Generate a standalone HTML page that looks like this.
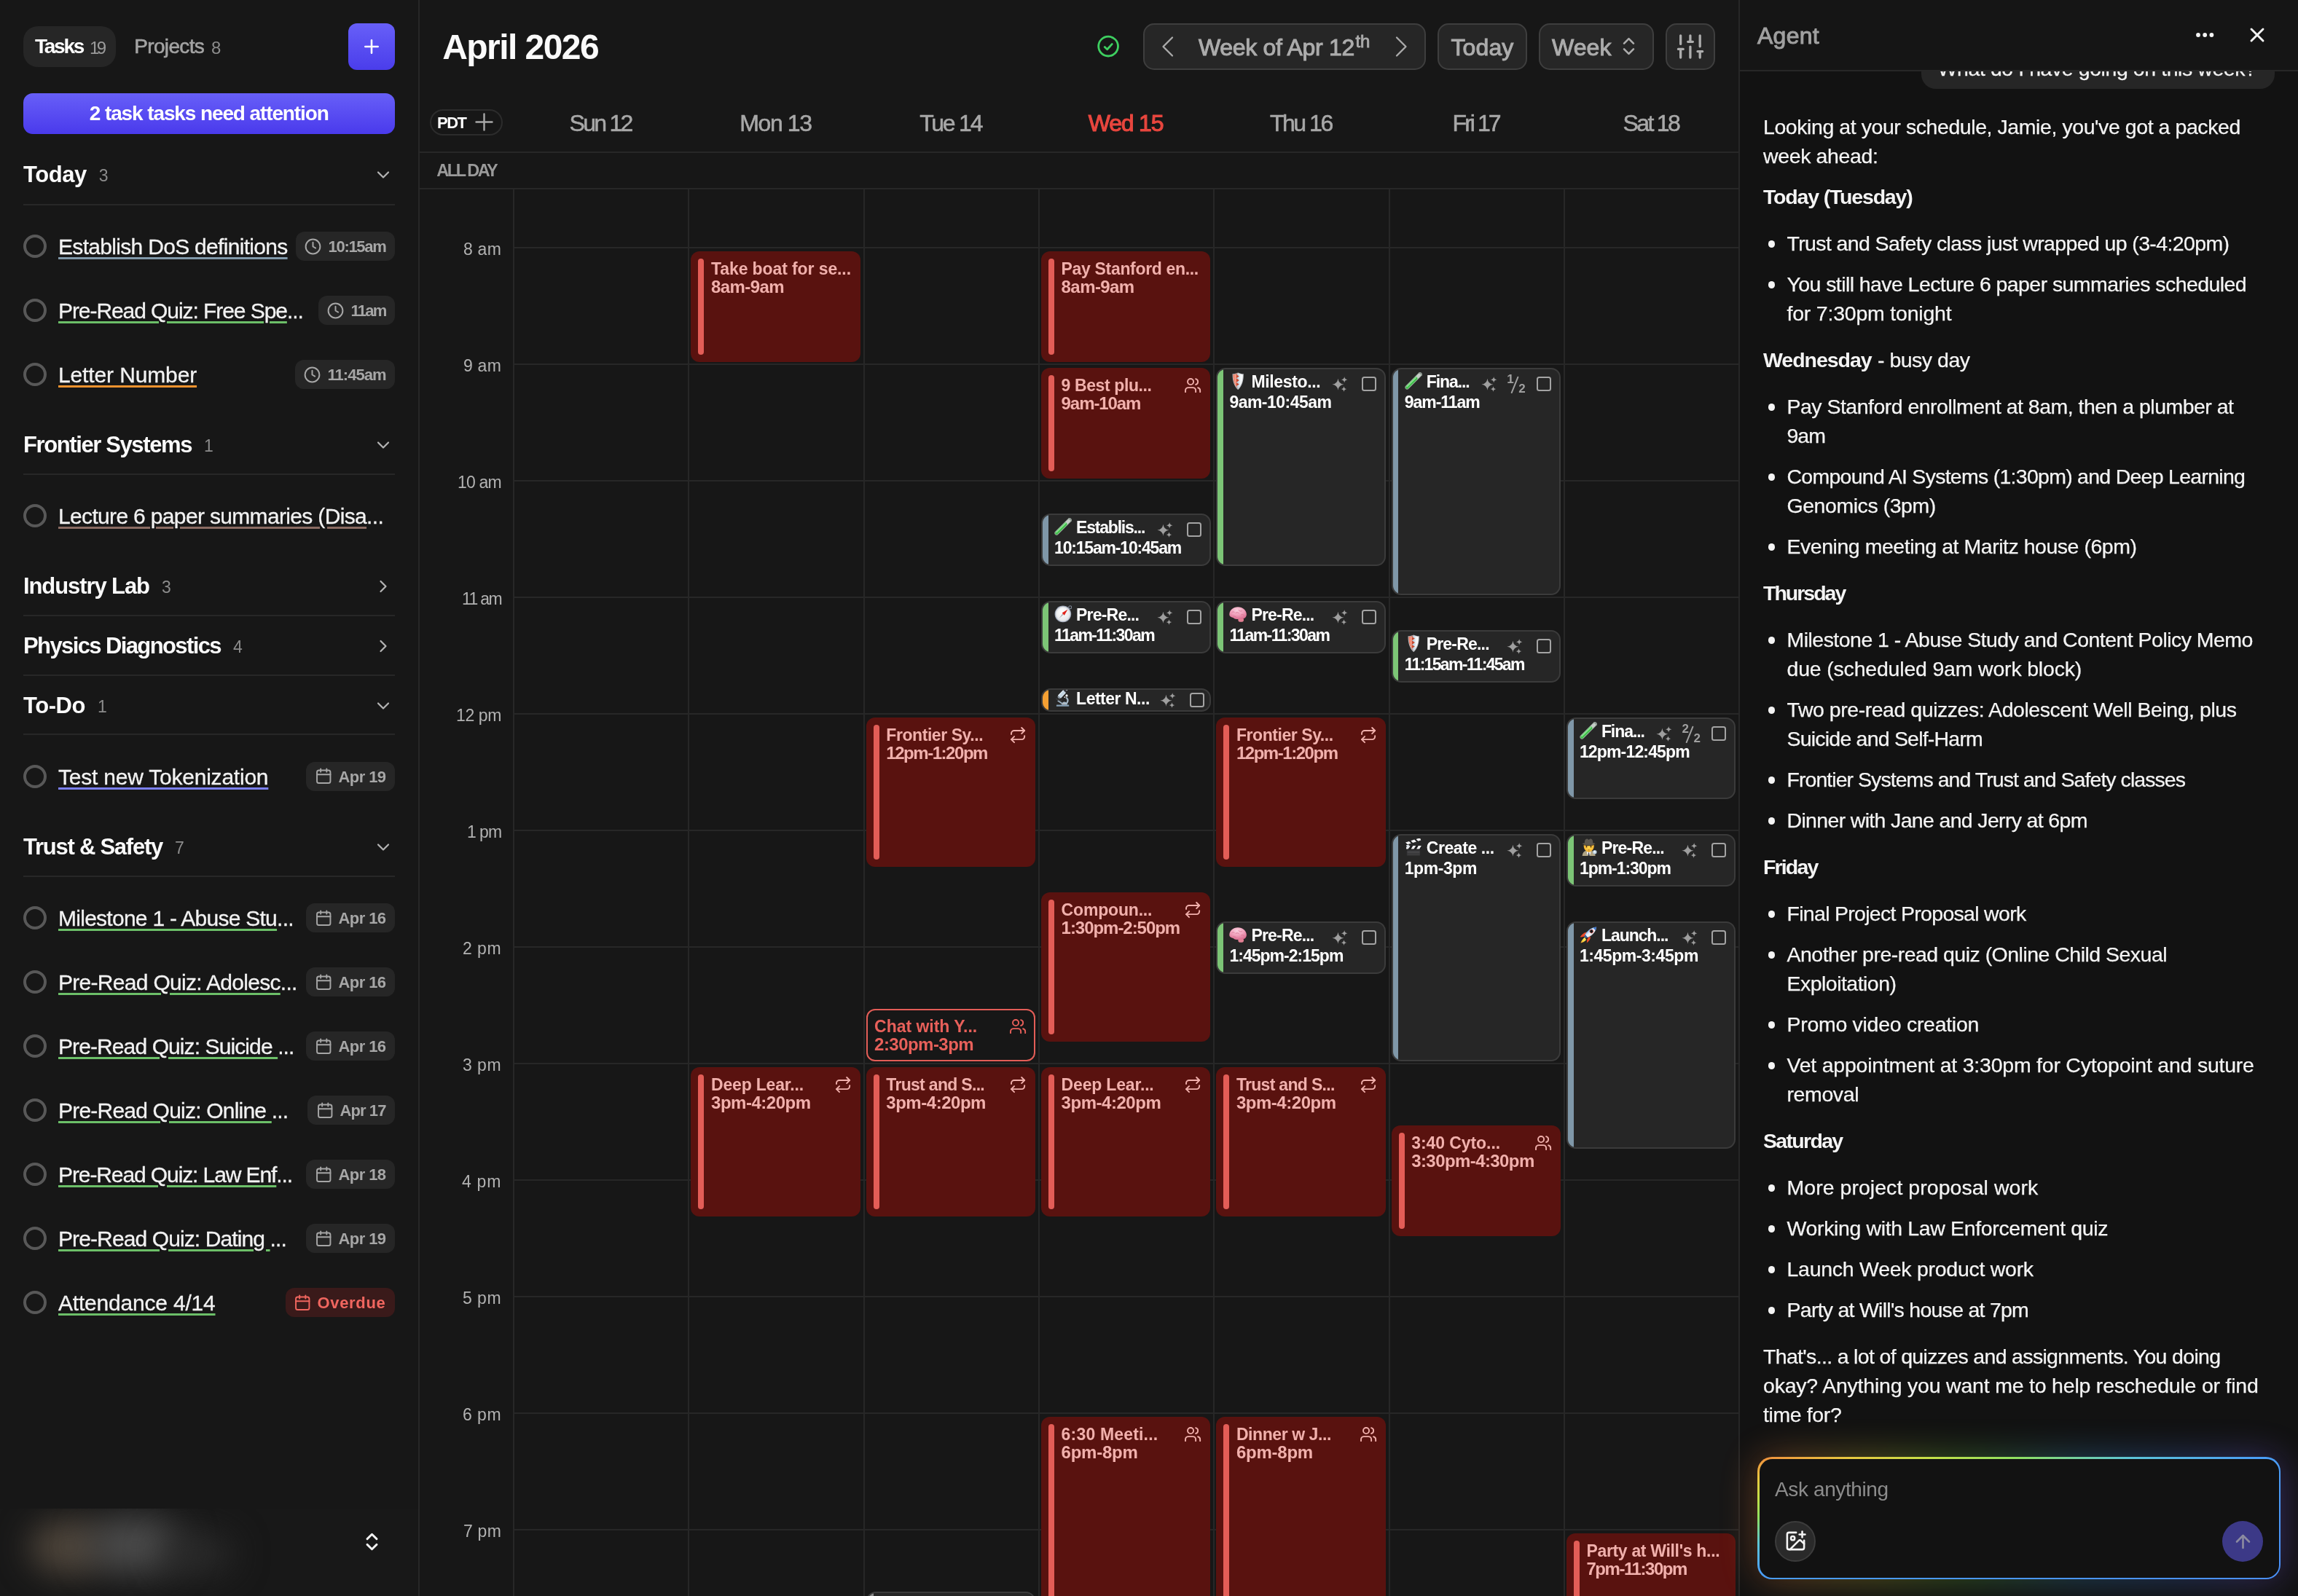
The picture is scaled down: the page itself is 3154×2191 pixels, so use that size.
<!DOCTYPE html>
<html lang="en"><head><meta charset="utf-8"><title>Calendar</title><style>
*{margin:0;padding:0}
html,body{width:3154px;height:2191px;background:#171717;overflow:hidden}
body{font-family:"Liberation Sans",sans-serif;position:relative}
#root{position:absolute;left:0;top:0;width:3154px;height:2191px;will-change:transform}
.a{position:absolute}
.t{position:absolute;white-space:nowrap;text-decoration-skip-ink:auto}
</style></head><body>
<div id="root">
<svg width="0" height="0" style="position:absolute"><defs><linearGradient id="gShR" x1="0" x2="1" y1="0" y2="0"><stop offset="0.450" stop-color="#b9cbd8"/><stop offset="0.750" stop-color="#f2f5f8"/><stop offset="1" stop-color="#ffffff"/></linearGradient><linearGradient id="gShL" x1="0" x2="1" y1="0" y2="0"><stop offset="0" stop-color="#ee7a62"/><stop offset="0.600" stop-color="#f4a08c"/><stop offset="1" stop-color="#df6a50"/></linearGradient><radialGradient id="gBrain" cx="0.450" cy="0.250" r="0.800"><stop offset="0" stop-color="#f9cfde"/><stop offset="0.450" stop-color="#f2a5bf"/><stop offset="1" stop-color="#d8688c"/></radialGradient><radialGradient id="gComp" cx="0.450" cy="0.350" r="0.700"><stop offset="0" stop-color="#ffffff"/><stop offset="1" stop-color="#e6e7ea"/></radialGradient><linearGradient id="gTube" x1="0" x2="1" y1="0" y2="0"><stop offset="0" stop-color="#e6f0f7"/><stop offset="0.500" stop-color="#bcd0df"/><stop offset="1" stop-color="#d5e2ec"/></linearGradient><radialGradient id="gFace" cx="0.500" cy="0.400" r="0.700"><stop offset="0" stop-color="#ffd84d"/><stop offset="1" stop-color="#f2a72a"/></radialGradient><linearGradient id="gFlame" x1="1" x2="0" y1="0" y2="1"><stop offset="0" stop-color="#fff27a"/><stop offset="0.500" stop-color="#fde047"/><stop offset="1" stop-color="#f59a23"/></linearGradient><linearGradient id="gRock" x1="0" x2="0" y1="0" y2="1"><stop offset="0" stop-color="#6fa6e4"/><stop offset="0.350" stop-color="#dbe8f6"/><stop offset="0.700" stop-color="#f5f6f8"/><stop offset="1" stop-color="#c9cdd4"/></linearGradient></defs></svg><div class="a" style="left:0.0px;top:0.0px;width:575.0px;height:2191.0px;background:#171717;"></div>
<div class="a" style="left:574.0px;top:0.0px;width:2.0px;height:2191.0px;background:#272727;"></div>
<div class="a" style="left:32.0px;top:36.0px;width:127.0px;height:56.0px;background:#262626;border-radius:20px;"></div>
<div class="t " style="left:48.0px;top:46.1px;font-size:28px;line-height:36px;color:#fff;font-weight:700;letter-spacing:-2.26px;">Tasks</div>
<div class="t " style="left:123.0px;top:49.8px;font-size:24px;line-height:31px;color:#9a9a9a;letter-spacing:-3.55px;">19</div>
<div class="t " style="left:184.2px;top:46.1px;font-size:28px;line-height:36px;color:#a3a3a3;letter-spacing:-0.64px;-webkit-text-stroke:0.6px #a3a3a3;">Projects</div>
<div class="t " style="left:290.0px;top:49.8px;font-size:24px;line-height:31px;color:#8c8c8c;">8</div>
<div class="a" style="left:478.0px;top:32.0px;width:64.0px;height:64.0px;background:linear-gradient(180deg,#675ff8 0%,#4a3deb 100%);border-radius:12px;"></div>
<svg class="a" style="left:497.0px;top:51.0px;" width="26" height="26" viewBox="0 0 24 24" fill="none" stroke="#fff" stroke-width="2.4" stroke-linecap="round" stroke-linejoin="round"><path d="M12 4v16M4 12h16"/></svg>
<div class="a" style="left:32.0px;top:128.0px;width:510.0px;height:55.5px;background:linear-gradient(180deg,#675ff8 0%,#4a3aec 100%);border-radius:13px;"></div>
<div class="t " style="left:122.8px;top:138.3px;font-size:28px;line-height:36px;color:#fff;font-weight:700;letter-spacing:-1.11px;">2 task tasks need attention</div>
<div class="t " style="left:32.0px;top:220.2px;font-size:31px;line-height:40px;color:#fafafa;font-weight:700;letter-spacing:-0.46px;">Today</div>
<div class="t " style="left:135.7px;top:226.4px;font-size:23px;line-height:30px;color:#8c8c8c;">3</div>
<svg class="a" style="left:514.0px;top:228.0px;" width="24" height="24" viewBox="0 0 24 24" fill="none" stroke="#b4b4b4" stroke-width="2.2" stroke-linecap="round" stroke-linejoin="round"><path d="M5 8.5l7 7 7-7"/></svg>
<div class="a" style="left:32.0px;top:280.0px;width:510.0px;height:2.0px;background:#272727;"></div>
<div class="a" style="left:32.0px;top:322.0px;width:32.0px;height:32.0px;border:4.2px solid #585858;border-radius:50%;box-sizing:border-box;"></div>
<div class="t " style="left:80.0px;top:319.2px;font-size:30px;line-height:39px;color:#f2f2f2;letter-spacing:-0.69px;-webkit-text-stroke:0.3px #f2f2f2;"><span style="text-decoration:underline #7f97a8 2.8px;text-underline-offset:4px">Establish DoS definitions</span></div>
<div class="a" style="left:406.0px;top:318.0px;width:136.0px;height:40.0px;background:#262626;border-radius:12px;"></div>
<svg class="a" style="left:417.3px;top:325.5px;" width="25" height="25" viewBox="0 0 24 24" fill="none" stroke="#a6a6a6" stroke-width="1.9" stroke-linecap="round" stroke-linejoin="round"><circle cx="12" cy="12" r="9.5"/><path d="M12 6.5V12l3.5 2"/></svg>
<div class="t " style="left:450.5px;top:323.9px;font-size:22px;line-height:29px;color:#a6a6a6;font-weight:700;letter-spacing:-1.29px;">10:15am</div>
<div class="a" style="left:32.0px;top:410.0px;width:32.0px;height:32.0px;border:4.2px solid #585858;border-radius:50%;box-sizing:border-box;"></div>
<div class="t " style="left:80.0px;top:407.2px;font-size:30px;line-height:39px;color:#f2f2f2;letter-spacing:-1.07px;-webkit-text-stroke:0.3px #f2f2f2;"><span style="text-decoration:underline #6cbf68 2.8px;text-underline-offset:4px">Pre-Read Quiz: Free Spe</span>...</div>
<div class="a" style="left:436.8px;top:406.0px;width:105.2px;height:40.0px;background:#262626;border-radius:12px;"></div>
<svg class="a" style="left:448.1px;top:413.5px;" width="25" height="25" viewBox="0 0 24 24" fill="none" stroke="#a6a6a6" stroke-width="1.9" stroke-linecap="round" stroke-linejoin="round"><circle cx="12" cy="12" r="9.5"/><path d="M12 6.5V12l3.5 2"/></svg>
<div class="t " style="left:481.5px;top:411.9px;font-size:22px;line-height:29px;color:#a6a6a6;font-weight:700;letter-spacing:-1.76px;">11am</div>
<div class="a" style="left:32.0px;top:498.0px;width:32.0px;height:32.0px;border:4.2px solid #585858;border-radius:50%;box-sizing:border-box;"></div>
<div class="t " style="left:80.0px;top:495.2px;font-size:30px;line-height:39px;color:#f2f2f2;letter-spacing:-0.13px;-webkit-text-stroke:0.3px #f2f2f2;"><span style="text-decoration:underline #f0932f 2.8px;text-underline-offset:4px">Letter Number</span></div>
<div class="a" style="left:405.0px;top:494.0px;width:137.0px;height:40.0px;background:#262626;border-radius:12px;"></div>
<svg class="a" style="left:416.3px;top:501.5px;" width="25" height="25" viewBox="0 0 24 24" fill="none" stroke="#a6a6a6" stroke-width="1.9" stroke-linecap="round" stroke-linejoin="round"><circle cx="12" cy="12" r="9.5"/><path d="M12 6.5V12l3.5 2"/></svg>
<div class="t " style="left:449.5px;top:499.9px;font-size:22px;line-height:29px;color:#a6a6a6;font-weight:700;letter-spacing:-0.98px;">11:45am</div>
<div class="t " style="left:32.0px;top:591.2px;font-size:31px;line-height:40px;color:#fafafa;font-weight:700;letter-spacing:-1.39px;">Frontier Systems</div>
<div class="t " style="left:280.0px;top:597.4px;font-size:23px;line-height:30px;color:#8c8c8c;">1</div>
<svg class="a" style="left:514.0px;top:599.0px;" width="24" height="24" viewBox="0 0 24 24" fill="none" stroke="#b4b4b4" stroke-width="2.2" stroke-linecap="round" stroke-linejoin="round"><path d="M5 8.5l7 7 7-7"/></svg>
<div class="a" style="left:32.0px;top:650.0px;width:510.0px;height:2.0px;background:#272727;"></div>
<div class="a" style="left:32.0px;top:691.7px;width:32.0px;height:32.0px;border:4.2px solid #585858;border-radius:50%;box-sizing:border-box;"></div>
<div class="t " style="left:80.0px;top:688.9px;font-size:30px;line-height:39px;color:#f2f2f2;letter-spacing:-0.66px;-webkit-text-stroke:0.3px #f2f2f2;"><span style="text-decoration:underline #8a6b62 2.8px;text-underline-offset:4px">Lecture 6 paper summaries (Disa</span>...</div>
<div class="t " style="left:32.0px;top:785.2px;font-size:31px;line-height:40px;color:#fafafa;font-weight:700;letter-spacing:-1.09px;">Industry Lab</div>
<div class="t " style="left:222.0px;top:791.4px;font-size:23px;line-height:30px;color:#8c8c8c;">3</div>
<svg class="a" style="left:514.0px;top:793.0px;" width="24" height="24" viewBox="0 0 24 24" fill="none" stroke="#b4b4b4" stroke-width="2.2" stroke-linecap="round" stroke-linejoin="round"><path d="M8.5 5l7 7-7 7"/></svg>
<div class="a" style="left:32.0px;top:844.0px;width:510.0px;height:2.0px;background:#272727;"></div>
<div class="t " style="left:32.0px;top:867.2px;font-size:31px;line-height:40px;color:#fafafa;font-weight:700;letter-spacing:-1.61px;">Physics Diagnostics</div>
<div class="t " style="left:320.0px;top:873.4px;font-size:23px;line-height:30px;color:#8c8c8c;">4</div>
<svg class="a" style="left:514.0px;top:875.0px;" width="24" height="24" viewBox="0 0 24 24" fill="none" stroke="#b4b4b4" stroke-width="2.2" stroke-linecap="round" stroke-linejoin="round"><path d="M8.5 5l7 7-7 7"/></svg>
<div class="a" style="left:32.0px;top:926.0px;width:510.0px;height:2.0px;background:#272727;"></div>
<div class="t " style="left:32.0px;top:949.0px;font-size:31px;line-height:40px;color:#fafafa;font-weight:700;letter-spacing:-0.44px;">To-Do</div>
<div class="t " style="left:134.0px;top:955.2px;font-size:23px;line-height:30px;color:#8c8c8c;">1</div>
<svg class="a" style="left:514.0px;top:956.8px;" width="24" height="24" viewBox="0 0 24 24" fill="none" stroke="#b4b4b4" stroke-width="2.2" stroke-linecap="round" stroke-linejoin="round"><path d="M5 8.5l7 7 7-7"/></svg>
<div class="a" style="left:32.0px;top:1007.0px;width:510.0px;height:2.0px;background:#272727;"></div>
<div class="a" style="left:32.0px;top:1049.6px;width:32.0px;height:32.0px;border:4.2px solid #585858;border-radius:50%;box-sizing:border-box;"></div>
<div class="t " style="left:80.0px;top:1046.8px;font-size:30px;line-height:39px;color:#f2f2f2;letter-spacing:-0.22px;-webkit-text-stroke:0.3px #f2f2f2;"><span style="text-decoration:underline #7b80f2 2.8px;text-underline-offset:4px">Test new Tokenization</span></div>
<div class="a" style="left:420.0px;top:1045.6px;width:122.0px;height:40.0px;background:#262626;border-radius:12px;"></div>
<svg class="a" style="left:431.6px;top:1053.3px;" width="24.5" height="24.5" viewBox="0 0 24 24" fill="none" stroke="#a6a6a6" stroke-width="1.9" stroke-linecap="round" stroke-linejoin="round"><rect x="3" y="4.5" width="18" height="17" rx="2.5"/><path d="M16 2.5v4M8 2.5v4M3 10h18"/></svg>
<div class="t " style="left:464.5px;top:1051.5px;font-size:22px;line-height:29px;color:#a6a6a6;font-weight:700;letter-spacing:-0.58px;">Apr 19</div>
<div class="t " style="left:32.0px;top:1142.7px;font-size:31px;line-height:40px;color:#fafafa;font-weight:700;letter-spacing:-1.25px;">Trust &amp; Safety</div>
<div class="t " style="left:240.0px;top:1148.9px;font-size:23px;line-height:30px;color:#8c8c8c;">7</div>
<svg class="a" style="left:514.0px;top:1150.5px;" width="24" height="24" viewBox="0 0 24 24" fill="none" stroke="#b4b4b4" stroke-width="2.2" stroke-linecap="round" stroke-linejoin="round"><path d="M5 8.5l7 7 7-7"/></svg>
<div class="a" style="left:32.0px;top:1202.0px;width:510.0px;height:2.0px;background:#272727;"></div>
<div class="a" style="left:32.0px;top:1244.0px;width:32.0px;height:32.0px;border:4.2px solid #585858;border-radius:50%;box-sizing:border-box;"></div>
<div class="t " style="left:80.0px;top:1241.2px;font-size:30px;line-height:39px;color:#f2f2f2;letter-spacing:-0.73px;-webkit-text-stroke:0.3px #f2f2f2;"><span style="text-decoration:underline #6cbf68 2.8px;text-underline-offset:4px">Milestone 1 - Abuse Stu</span>...</div>
<div class="a" style="left:420.0px;top:1240.0px;width:122.0px;height:40.0px;background:#262626;border-radius:12px;"></div>
<svg class="a" style="left:431.6px;top:1247.7px;" width="24.5" height="24.5" viewBox="0 0 24 24" fill="none" stroke="#a6a6a6" stroke-width="1.9" stroke-linecap="round" stroke-linejoin="round"><rect x="3" y="4.5" width="18" height="17" rx="2.5"/><path d="M16 2.5v4M8 2.5v4M3 10h18"/></svg>
<div class="t " style="left:464.5px;top:1245.9px;font-size:22px;line-height:29px;color:#a6a6a6;font-weight:700;letter-spacing:-0.58px;">Apr 16</div>
<div class="a" style="left:32.0px;top:1332.0px;width:32.0px;height:32.0px;border:4.2px solid #585858;border-radius:50%;box-sizing:border-box;"></div>
<div class="t " style="left:80.0px;top:1329.2px;font-size:30px;line-height:39px;color:#f2f2f2;letter-spacing:-0.70px;-webkit-text-stroke:0.3px #f2f2f2;"><span style="text-decoration:underline #6cbf68 2.8px;text-underline-offset:4px">Pre-Read Quiz: Adolesc</span>...</div>
<div class="a" style="left:420.0px;top:1328.0px;width:122.0px;height:40.0px;background:#262626;border-radius:12px;"></div>
<svg class="a" style="left:431.6px;top:1335.7px;" width="24.5" height="24.5" viewBox="0 0 24 24" fill="none" stroke="#a6a6a6" stroke-width="1.9" stroke-linecap="round" stroke-linejoin="round"><rect x="3" y="4.5" width="18" height="17" rx="2.5"/><path d="M16 2.5v4M8 2.5v4M3 10h18"/></svg>
<div class="t " style="left:464.5px;top:1333.9px;font-size:22px;line-height:29px;color:#a6a6a6;font-weight:700;letter-spacing:-0.58px;">Apr 16</div>
<div class="a" style="left:32.0px;top:1420.0px;width:32.0px;height:32.0px;border:4.2px solid #585858;border-radius:50%;box-sizing:border-box;"></div>
<div class="t " style="left:80.0px;top:1417.2px;font-size:30px;line-height:39px;color:#f2f2f2;letter-spacing:-0.90px;-webkit-text-stroke:0.3px #f2f2f2;"><span style="text-decoration:underline #6cbf68 2.8px;text-underline-offset:4px">Pre-Read Quiz: Suicide </span>...</div>
<div class="a" style="left:420.0px;top:1416.0px;width:122.0px;height:40.0px;background:#262626;border-radius:12px;"></div>
<svg class="a" style="left:431.6px;top:1423.7px;" width="24.5" height="24.5" viewBox="0 0 24 24" fill="none" stroke="#a6a6a6" stroke-width="1.9" stroke-linecap="round" stroke-linejoin="round"><rect x="3" y="4.5" width="18" height="17" rx="2.5"/><path d="M16 2.5v4M8 2.5v4M3 10h18"/></svg>
<div class="t " style="left:464.5px;top:1421.9px;font-size:22px;line-height:29px;color:#a6a6a6;font-weight:700;letter-spacing:-0.58px;">Apr 16</div>
<div class="a" style="left:32.0px;top:1508.0px;width:32.0px;height:32.0px;border:4.2px solid #585858;border-radius:50%;box-sizing:border-box;"></div>
<div class="t " style="left:80.0px;top:1505.2px;font-size:30px;line-height:39px;color:#f2f2f2;letter-spacing:-0.79px;-webkit-text-stroke:0.3px #f2f2f2;"><span style="text-decoration:underline #6cbf68 2.8px;text-underline-offset:4px">Pre-Read Quiz: Online </span>...</div>
<div class="a" style="left:422.0px;top:1504.0px;width:120.0px;height:40.0px;background:#262626;border-radius:12px;"></div>
<svg class="a" style="left:433.6px;top:1511.7px;" width="24.5" height="24.5" viewBox="0 0 24 24" fill="none" stroke="#a6a6a6" stroke-width="1.9" stroke-linecap="round" stroke-linejoin="round"><rect x="3" y="4.5" width="18" height="17" rx="2.5"/><path d="M16 2.5v4M8 2.5v4M3 10h18"/></svg>
<div class="t " style="left:466.5px;top:1509.9px;font-size:22px;line-height:29px;color:#a6a6a6;font-weight:700;letter-spacing:-0.91px;">Apr 17</div>
<div class="a" style="left:32.0px;top:1596.0px;width:32.0px;height:32.0px;border:4.2px solid #585858;border-radius:50%;box-sizing:border-box;"></div>
<div class="t " style="left:80.0px;top:1593.2px;font-size:30px;line-height:39px;color:#f2f2f2;letter-spacing:-1.10px;-webkit-text-stroke:0.3px #f2f2f2;"><span style="text-decoration:underline #6cbf68 2.8px;text-underline-offset:4px">Pre-Read Quiz: Law Enf</span>...</div>
<div class="a" style="left:420.0px;top:1592.0px;width:122.0px;height:40.0px;background:#262626;border-radius:12px;"></div>
<svg class="a" style="left:431.6px;top:1599.7px;" width="24.5" height="24.5" viewBox="0 0 24 24" fill="none" stroke="#a6a6a6" stroke-width="1.9" stroke-linecap="round" stroke-linejoin="round"><rect x="3" y="4.5" width="18" height="17" rx="2.5"/><path d="M16 2.5v4M8 2.5v4M3 10h18"/></svg>
<div class="t " style="left:464.5px;top:1597.9px;font-size:22px;line-height:29px;color:#a6a6a6;font-weight:700;letter-spacing:-0.58px;">Apr 18</div>
<div class="a" style="left:32.0px;top:1684.0px;width:32.0px;height:32.0px;border:4.2px solid #585858;border-radius:50%;box-sizing:border-box;"></div>
<div class="t " style="left:80.0px;top:1681.2px;font-size:30px;line-height:39px;color:#f2f2f2;letter-spacing:-0.89px;-webkit-text-stroke:0.3px #f2f2f2;"><span style="text-decoration:underline #6cbf68 2.8px;text-underline-offset:4px">Pre-Read Quiz: Dating </span>...</div>
<div class="a" style="left:420.0px;top:1680.0px;width:122.0px;height:40.0px;background:#262626;border-radius:12px;"></div>
<svg class="a" style="left:431.6px;top:1687.7px;" width="24.5" height="24.5" viewBox="0 0 24 24" fill="none" stroke="#a6a6a6" stroke-width="1.9" stroke-linecap="round" stroke-linejoin="round"><rect x="3" y="4.5" width="18" height="17" rx="2.5"/><path d="M16 2.5v4M8 2.5v4M3 10h18"/></svg>
<div class="t " style="left:464.5px;top:1685.9px;font-size:22px;line-height:29px;color:#a6a6a6;font-weight:700;letter-spacing:-0.58px;">Apr 19</div>
<div class="a" style="left:32.0px;top:1772.0px;width:32.0px;height:32.0px;border:4.2px solid #585858;border-radius:50%;box-sizing:border-box;"></div>
<div class="t " style="left:80.0px;top:1769.2px;font-size:30px;line-height:39px;color:#f2f2f2;letter-spacing:-0.20px;-webkit-text-stroke:0.3px #f2f2f2;"><span style="text-decoration:underline #6cbf68 2.8px;text-underline-offset:4px">Attendance 4/14</span></div>
<div class="a" style="left:391.8px;top:1768.0px;width:150.2px;height:40.0px;background:#3a1a1a;border-radius:12px;"></div>
<svg class="a" style="left:403.4px;top:1775.7px;" width="24.5" height="24.5" viewBox="0 0 24 24" fill="none" stroke="#f0665f" stroke-width="1.9" stroke-linecap="round" stroke-linejoin="round"><rect x="3" y="4.5" width="18" height="17" rx="2.5"/><path d="M16 2.5v4M8 2.5v4M3 10h18"/></svg>
<div class="t " style="left:435.5px;top:1773.9px;font-size:22px;line-height:29px;color:#f0665f;font-weight:700;letter-spacing:0.68px;">Overdue</div>
<div class="a" style="left:0;top:2071px;width:574px;height:120px;overflow:hidden;background:#181818"><div class="a" style="left:40px;top:14px;width:110px;height:78px;border-radius:50%;background:#4d443a;filter:blur(22px)"></div><div class="a" style="left:120px;top:10px;width:130px;height:80px;border-radius:50%;background:#4c4c4c;filter:blur(24px)"></div><div class="a" style="left:220px;top:34px;width:100px;height:56px;border-radius:50%;background:#2c2c2c;filter:blur(24px)"></div></div>
<svg class="a" style="left:494.5px;top:2100.5px;" width="31" height="31" viewBox="0 0 24 24" fill="none" stroke="#f2f2f2" stroke-width="2.2" stroke-linecap="round" stroke-linejoin="round"><path d="m7 15 5 5 5-5"/><path d="m7 9 5-5 5 5"/></svg>
<div class="a" style="left:576.0px;top:0.0px;width:1810.0px;height:2191.0px;background:#171717;"></div>
<div class="t " style="left:607.2px;top:34.4px;font-size:48px;line-height:62px;color:#fafafa;font-weight:700;letter-spacing:-1.55px;">April 2026</div>
<svg class="a" style="left:1501px;top:44px" width="40" height="40" viewBox="0 0 40 40" fill="none" stroke="#3ecf60" stroke-width="2.8" stroke-linecap="round" stroke-linejoin="round"><circle cx="20.1" cy="19.6" r="13.4"/><path d="M15.2 20.6l3.4 3.2 6.6-7.2"/></svg>
<div class="a" style="left:1568.6px;top:32.0px;width:388.0px;height:63.5px;background:#262626;border:2px solid #3e3e3e;border-radius:15px;box-sizing:border-box;"></div>
<svg class="a" style="left:1590px;top:44px" width="30" height="40" viewBox="0 0 30 40" fill="none" stroke="#ababab" stroke-width="2.3" stroke-linecap="round" stroke-linejoin="round"><path d="M19 7.5L6.5 20 19 32.500"/></svg>
<div class="t " style="left:1645.0px;top:44.4px;font-size:32px;line-height:42px;color:#acacac;letter-spacing:-0.30px;-webkit-text-stroke:1.0px #acacac;">Week of Apr 12</div>
<div class="t " style="left:1860.5px;top:40.7px;font-size:24px;line-height:31px;color:#acacac;letter-spacing:-0.26px;-webkit-text-stroke:0.8px #acacac;">th</div>
<svg class="a" style="left:1905px;top:44px" width="30" height="40" viewBox="0 0 30 40" fill="none" stroke="#ababab" stroke-width="2.3" stroke-linecap="round" stroke-linejoin="round"><path d="M12 7.500L24.500 20 12 32.500"/></svg>
<div class="a" style="left:1973.0px;top:32.0px;width:122.7px;height:63.5px;background:#262626;border:2px solid #3e3e3e;border-radius:15px;box-sizing:border-box;"></div>
<div class="t " style="left:1991.5px;top:44.4px;font-size:32px;line-height:42px;color:#acacac;letter-spacing:0.12px;-webkit-text-stroke:1.0px #acacac;">Today</div>
<div class="a" style="left:2112.0px;top:32.0px;width:157.7px;height:63.5px;background:#262626;border:2px solid #3e3e3e;border-radius:15px;box-sizing:border-box;"></div>
<div class="t " style="left:2130.0px;top:44.4px;font-size:32px;line-height:42px;color:#acacac;letter-spacing:0.07px;-webkit-text-stroke:1.0px #acacac;">Week</div>
<svg class="a" style="left:2220.3px;top:48.3px;" width="31" height="31" viewBox="0 0 24 24" fill="none" stroke="#acacac" stroke-width="2.0" stroke-linecap="round" stroke-linejoin="round"><path d="m7 15 5 5 5-5"/><path d="m7 9 5-5 5 5"/></svg>
<div class="a" style="left:2286.0px;top:32.0px;width:67.7px;height:63.5px;background:#262626;border:2px solid #3e3e3e;border-radius:15px;box-sizing:border-box;"></div>
<svg class="a" style="left:2300px;top:44px" width="40" height="40" viewBox="0 0 40 40" fill="none" stroke="#adadad" stroke-width="3.3" stroke-linecap="round"><path d="M6.65 4.8V16.4M3.4 23.4H10.2M6.65 23.4V35.1M19.9 4.8V13.3M16.7 13.3H23.400M19.900 20.100V35.100M33.200 4.800V19.800M30 26.600H36.700M33.200 26.600V35.100"/></svg>
<div class="a" style="left:590.0px;top:149.6px;width:99.6px;height:36.0px;border:2px solid #2c2c2c;border-radius:18px;box-sizing:border-box;"></div>
<div class="t " style="left:600.0px;top:153.9px;font-size:22px;line-height:29px;color:#fff;font-weight:700;letter-spacing:-1.47px;">PDT</div>
<svg class="a" style="left:647.6px;top:151.4px;" width="33" height="33" viewBox="0 0 24 24" fill="none" stroke="#a8a8a8" stroke-width="1.75" stroke-linecap="round" stroke-linejoin="round"><path d="M12 4v16M4 12h16"/></svg>
<div class="t " style="left:781.6px;top:147.9px;font-size:32px;line-height:42px;color:#a8a8a8;letter-spacing:-2.74px;-webkit-text-stroke:0.55px #a8a8a8;">Sun 12</div>
<div class="t " style="left:1015.2px;top:147.9px;font-size:32px;line-height:42px;color:#a8a8a8;letter-spacing:-1.37px;-webkit-text-stroke:0.55px #a8a8a8;">Mon 13</div>
<div class="t " style="left:1262.2px;top:147.9px;font-size:32px;line-height:42px;color:#a8a8a8;letter-spacing:-2.24px;-webkit-text-stroke:0.55px #a8a8a8;">Tue 14</div>
<div class="t " style="left:1493.8px;top:147.9px;font-size:32px;line-height:42px;color:#e8463e;letter-spacing:-1.20px;-webkit-text-stroke:1.1px #e8463e;">Wed 15</div>
<div class="t " style="left:1743.0px;top:147.9px;font-size:32px;line-height:42px;color:#a8a8a8;letter-spacing:-2.49px;-webkit-text-stroke:0.55px #a8a8a8;">Thu 16</div>
<div class="t " style="left:1993.6px;top:147.9px;font-size:32px;line-height:42px;color:#a8a8a8;letter-spacing:-2.97px;-webkit-text-stroke:0.55px #a8a8a8;">Fri 17</div>
<div class="t " style="left:2227.6px;top:147.9px;font-size:32px;line-height:42px;color:#a8a8a8;letter-spacing:-2.67px;-webkit-text-stroke:0.55px #a8a8a8;">Sat 18</div>
<div class="a" style="left:576.0px;top:208.0px;width:1810.0px;height:2.0px;background:#272727;"></div>
<div class="t " style="left:599.3px;top:219.4px;font-size:23.5px;line-height:31px;color:#9a9a9a;font-weight:700;letter-spacing:-2.46px;">ALL DAY</div>
<div class="a" style="left:576.0px;top:257.5px;width:1810.0px;height:2.0px;background:#272727;"></div>
<div class="a" style="left:704.0px;top:259.0px;width:2.0px;height:1932.0px;background:#272727;"></div>
<div class="a" style="left:944.3px;top:259.0px;width:2.0px;height:1932.0px;background:#272727;"></div>
<div class="a" style="left:1184.6px;top:259.0px;width:2.0px;height:1932.0px;background:#272727;"></div>
<div class="a" style="left:1424.9px;top:259.0px;width:2.0px;height:1932.0px;background:#272727;"></div>
<div class="a" style="left:1665.2px;top:259.0px;width:2.0px;height:1932.0px;background:#272727;"></div>
<div class="a" style="left:1905.5px;top:259.0px;width:2.0px;height:1932.0px;background:#272727;"></div>
<div class="a" style="left:2145.7px;top:259.0px;width:2.0px;height:1932.0px;background:#272727;"></div>
<div class="a" style="left:704.0px;top:339.0px;width:1682.0px;height:2.0px;background:#272727;"></div>
<div class="t " style="left:636.0px;top:327.2px;font-size:23px;line-height:30px;color:#b2b2b2;letter-spacing:0.22px;">8 am</div>
<div class="a" style="left:704.0px;top:499.0px;width:1682.0px;height:2.0px;background:#272727;"></div>
<div class="t " style="left:636.0px;top:487.2px;font-size:23px;line-height:30px;color:#b2b2b2;letter-spacing:0.22px;">9 am</div>
<div class="a" style="left:704.0px;top:659.0px;width:1682.0px;height:2.0px;background:#272727;"></div>
<div class="t " style="left:628.0px;top:647.2px;font-size:23px;line-height:30px;color:#b2b2b2;letter-spacing:-0.79px;">10 am</div>
<div class="a" style="left:704.0px;top:819.0px;width:1682.0px;height:2.0px;background:#272727;"></div>
<div class="t " style="left:634.0px;top:807.2px;font-size:23px;line-height:30px;color:#b2b2b2;letter-spacing:-1.64px;">11 am</div>
<div class="a" style="left:704.0px;top:979.0px;width:1682.0px;height:2.0px;background:#272727;"></div>
<div class="t " style="left:626.0px;top:967.2px;font-size:23px;line-height:30px;color:#b2b2b2;letter-spacing:-0.39px;">12 pm</div>
<div class="a" style="left:704.0px;top:1139.0px;width:1682.0px;height:2.0px;background:#272727;"></div>
<div class="t " style="left:641.0px;top:1127.2px;font-size:23px;line-height:30px;color:#b2b2b2;letter-spacing:-1.03px;">1 pm</div>
<div class="a" style="left:704.0px;top:1299.0px;width:1682.0px;height:2.0px;background:#272727;"></div>
<div class="t " style="left:635.0px;top:1287.2px;font-size:23px;line-height:30px;color:#b2b2b2;letter-spacing:0.47px;">2 pm</div>
<div class="a" style="left:704.0px;top:1459.0px;width:1682.0px;height:2.0px;background:#272727;"></div>
<div class="t " style="left:635.0px;top:1447.2px;font-size:23px;line-height:30px;color:#b2b2b2;letter-spacing:0.47px;">3 pm</div>
<div class="a" style="left:704.0px;top:1619.0px;width:1682.0px;height:2.0px;background:#272727;"></div>
<div class="t " style="left:634.0px;top:1607.2px;font-size:23px;line-height:30px;color:#b2b2b2;letter-spacing:0.72px;">4 pm</div>
<div class="a" style="left:704.0px;top:1779.0px;width:1682.0px;height:2.0px;background:#272727;"></div>
<div class="t " style="left:635.0px;top:1767.2px;font-size:23px;line-height:30px;color:#b2b2b2;letter-spacing:0.47px;">5 pm</div>
<div class="a" style="left:704.0px;top:1939.0px;width:1682.0px;height:2.0px;background:#272727;"></div>
<div class="t " style="left:635.0px;top:1927.2px;font-size:23px;line-height:30px;color:#b2b2b2;letter-spacing:0.47px;">6 pm</div>
<div class="a" style="left:704.0px;top:2099.0px;width:1682.0px;height:2.0px;background:#272727;"></div>
<div class="t " style="left:636.0px;top:2087.2px;font-size:23px;line-height:30px;color:#b2b2b2;letter-spacing:0.22px;">7 pm</div>
<div class="a" style="left:948.3px;top:345.0px;width:232.4px;height:151.7px;background:#59120f;border-radius:12px;overflow:hidden;"><div class="a" style="left:10px;top:10px;width:8px;bottom:10px;border-radius:4px;background:#e35d57"></div></div>
<div class="t " style="left:976.0px;top:354.4px;font-size:23px;line-height:30px;color:#f1b0ac;font-weight:700;letter-spacing:-0.10px;">Take boat for se...</div>
<div class="t " style="left:976.0px;top:378.4px;font-size:24px;line-height:31px;color:#f1b0ac;font-weight:700;letter-spacing:-0.58px;">8am-9am</div>
<div class="a" style="left:948.3px;top:1465.0px;width:232.4px;height:205.0px;background:#59120f;border-radius:12px;overflow:hidden;"><div class="a" style="left:10px;top:10px;width:8px;bottom:10px;border-radius:4px;background:#e35d57"></div></div>
<div class="t " style="left:976.0px;top:1474.4px;font-size:23px;line-height:30px;color:#f1b0ac;font-weight:700;letter-spacing:-0.18px;">Deep Lear...</div>
<div class="t " style="left:976.0px;top:1498.4px;font-size:24px;line-height:31px;color:#f1b0ac;font-weight:700;letter-spacing:-0.47px;">3pm-4:20pm</div>
<svg class="a" style="left:1144.8px;top:1477.2px;" width="24.2" height="24.2" viewBox="0 0 24 24" fill="none" stroke="#f1b0ac" stroke-width="1.9" stroke-linecap="round" stroke-linejoin="round"><path d="m17 2 4 4-4 4"/><path d="M3 11v-1a4 4 0 0 1 4-4h14"/><path d="m7 22-4-4 4-4"/><path d="M21 13v1a4 4 0 0 1-4 4H3"/></svg>
<div class="a" style="left:1188.6px;top:985.0px;width:232.4px;height:205.0px;background:#59120f;border-radius:12px;overflow:hidden;"><div class="a" style="left:10px;top:10px;width:8px;bottom:10px;border-radius:4px;background:#e35d57"></div></div>
<div class="t " style="left:1216.3px;top:994.4px;font-size:23px;line-height:30px;color:#f1b0ac;font-weight:700;letter-spacing:-0.43px;">Frontier Sy...</div>
<div class="t " style="left:1216.3px;top:1018.4px;font-size:24px;line-height:31px;color:#f1b0ac;font-weight:700;letter-spacing:-1.46px;">12pm-1:20pm</div>
<svg class="a" style="left:1385.1px;top:997.2px;" width="24.2" height="24.2" viewBox="0 0 24 24" fill="none" stroke="#f1b0ac" stroke-width="1.9" stroke-linecap="round" stroke-linejoin="round"><path d="m17 2 4 4-4 4"/><path d="M3 11v-1a4 4 0 0 1 4-4h14"/><path d="m7 22-4-4 4-4"/><path d="M21 13v1a4 4 0 0 1-4 4H3"/></svg>
<div class="a" style="left:1188.6px;top:1385.0px;width:232.4px;height:71.7px;background:#171717;border:2.5px solid #e35d57;border-radius:12px;box-sizing:border-box;"></div>
<div class="t " style="left:1200.1px;top:1394.4px;font-size:23px;line-height:30px;color:#e8605a;font-weight:700;letter-spacing:-0.03px;">Chat with Y...</div>
<div class="t " style="left:1200.1px;top:1418.4px;font-size:24px;line-height:31px;color:#e8605a;font-weight:700;letter-spacing:-0.54px;">2:30pm-3pm</div>
<svg class="a" style="left:1385.1px;top:1397.2px;" width="24.2" height="24.2" viewBox="0 0 24 24" fill="none" stroke="#e8605a" stroke-width="1.9" stroke-linecap="round" stroke-linejoin="round"><path d="M16 21v-2a4 4 0 0 0-4-4H6a4 4 0 0 0-4 4v2"/><circle cx="9" cy="7" r="4"/><path d="M22 21v-2a4 4 0 0 0-3-3.87"/><path d="M16 3.13a4 4 0 0 1 0 7.75"/></svg>
<div class="a" style="left:1188.6px;top:1465.0px;width:232.4px;height:205.0px;background:#59120f;border-radius:12px;overflow:hidden;"><div class="a" style="left:10px;top:10px;width:8px;bottom:10px;border-radius:4px;background:#e35d57"></div></div>
<div class="t " style="left:1216.3px;top:1474.4px;font-size:23px;line-height:30px;color:#f1b0ac;font-weight:700;letter-spacing:-0.69px;">Trust and S...</div>
<div class="t " style="left:1216.3px;top:1498.4px;font-size:24px;line-height:31px;color:#f1b0ac;font-weight:700;letter-spacing:-0.47px;">3pm-4:20pm</div>
<svg class="a" style="left:1385.1px;top:1477.2px;" width="24.2" height="24.2" viewBox="0 0 24 24" fill="none" stroke="#f1b0ac" stroke-width="1.9" stroke-linecap="round" stroke-linejoin="round"><path d="m17 2 4 4-4 4"/><path d="M3 11v-1a4 4 0 0 1 4-4h14"/><path d="m7 22-4-4 4-4"/><path d="M21 13v1a4 4 0 0 1-4 4H3"/></svg>
<div class="a" style="left:1188.7px;top:2184.8px;width:232.5px;height:40.0px;background:#262626;border:2px solid #3b3b3b;border-radius:13px;box-sizing:border-box;overflow:hidden;"><div class="a" style="left:0;top:0;width:7.9px;bottom:0;background:#8a8a8a"></div></div>
<div class="a" style="left:1428.9px;top:345.0px;width:232.4px;height:151.7px;background:#59120f;border-radius:12px;overflow:hidden;"><div class="a" style="left:10px;top:10px;width:8px;bottom:10px;border-radius:4px;background:#e35d57"></div></div>
<div class="t " style="left:1456.6px;top:354.4px;font-size:23px;line-height:30px;color:#f1b0ac;font-weight:700;letter-spacing:-0.33px;">Pay Stanford en...</div>
<div class="t " style="left:1456.6px;top:378.4px;font-size:24px;line-height:31px;color:#f1b0ac;font-weight:700;letter-spacing:-0.58px;">8am-9am</div>
<div class="a" style="left:1428.9px;top:505.0px;width:232.4px;height:151.7px;background:#59120f;border-radius:12px;overflow:hidden;"><div class="a" style="left:10px;top:10px;width:8px;bottom:10px;border-radius:4px;background:#e35d57"></div></div>
<div class="t " style="left:1456.6px;top:514.4px;font-size:23px;line-height:30px;color:#f1b0ac;font-weight:700;letter-spacing:-0.39px;">9 Best plu...</div>
<div class="t " style="left:1456.6px;top:538.4px;font-size:24px;line-height:31px;color:#f1b0ac;font-weight:700;letter-spacing:-1.08px;">9am-10am</div>
<svg class="a" style="left:1625.4px;top:517.2px;" width="24.2" height="24.2" viewBox="0 0 24 24" fill="none" stroke="#f1b0ac" stroke-width="1.9" stroke-linecap="round" stroke-linejoin="round"><path d="M16 21v-2a4 4 0 0 0-4-4H6a4 4 0 0 0-4 4v2"/><circle cx="9" cy="7" r="4"/><path d="M22 21v-2a4 4 0 0 0-3-3.87"/><path d="M16 3.13a4 4 0 0 1 0 7.75"/></svg>
<div class="a" style="left:1429.0px;top:704.8px;width:232.5px;height:72.5px;background:#262626;border:2px solid #3b3b3b;border-radius:13px;box-sizing:border-box;overflow:hidden;"><div class="a" style="left:0;top:0;width:7.9px;bottom:0;background:#7f97a8"></div></div>
<svg class="a" style="left:1447.1px;top:710.8px" width="24" height="24" viewBox="0 0 24 24"><g transform="rotate(45 12 12)"><rect x="9.3" y="-3.2" width="5.4" height="30.4" rx="2.7" fill="#c4cdc6" stroke="#69736c" stroke-width="0.8"/><rect x="10" y="5" width="4" height="21.5" rx="2" fill="#3fbf4a"/><rect x="10.500" y="5.500" width="1.300" height="19" rx="0.600" fill="#93e897"/><rect x="8.600" y="-3.500" width="6.800" height="2.300" rx="1" fill="#8d9891"/></g></svg>
<div class="t " style="left:1477.1px;top:709.4px;font-size:23px;line-height:30px;color:#fff;font-weight:700;letter-spacing:-1.22px;">Establis...</div>
<div class="t " style="left:1447.1px;top:737.0px;font-size:23px;line-height:30px;color:#fff;font-weight:700;letter-spacing:-1.19px;">10:15am-10:45am</div>
<div class="a" style="left:1628.6px;top:717.1px;width:20.0px;height:20.0px;border:2px solid #a4a4a4;border-radius:3.5px;box-sizing:border-box;"></div>
<svg class="a" style="left:1587.6px;top:715.8px;" width="22.5" height="22.5" viewBox="0 0 24 24" fill="#9e9e9e" stroke="none" stroke-width="0" stroke-linecap="round" stroke-linejoin="round"><path d="M9 3.9000000000000004Q9.9632 11.5368 17.6 12.5Q9.9632 13.4632 9 21.1Q8.0368 13.4632 0.40000000000000036 12.5Q8.0368 11.5368 9 3.9000000000000004ZM18.3 1.0Q18.8152 5.0847999999999995 22.9 5.6Q18.8152 6.1152 18.3 10.2Q17.7848 6.1152 13.700000000000001 5.6Q17.7848 5.0847999999999995 18.3 1.0ZM17.6 15.100000000000001Q18.070400000000003 18.8296 21.8 19.3Q18.070400000000003 19.770400000000002 17.6 23.5Q17.1296 19.770400000000002 13.400000000000002 19.3Q17.1296 18.8296 17.6 15.100000000000001Z"/></svg>
<div class="a" style="left:1429.0px;top:824.8px;width:232.5px;height:72.5px;background:#262626;border:2px solid #3b3b3b;border-radius:13px;box-sizing:border-box;overflow:hidden;"><div class="a" style="left:0;top:0;width:7.9px;bottom:0;background:#7cc576"></div></div>
<svg class="a" style="left:1447.1px;top:830.8px" width="24" height="24" viewBox="0 0 24 24"><circle cx="21.700" cy="2.700" r="2" fill="none" stroke="#7d8696" stroke-width="1.100"/><circle cx="11.900" cy="11.900" r="11.300" fill="#9aa3b4"/><circle cx="11.900" cy="11.900" r="10.300" fill="#dcdfe4"/><circle cx="11.900" cy="11.900" r="8.800" fill="url(#gComp)"/><path d="M6.800 17.700L11.200 11.400 12.600 12.800z" fill="#a9abb0"/><path d="M18.300 5.700L13.800 13.700 10.600 10.600z" fill="#e1231b"/></svg>
<div class="t " style="left:1477.1px;top:829.4px;font-size:23px;line-height:30px;color:#fff;font-weight:700;letter-spacing:-0.81px;">Pre-Re...</div>
<div class="t " style="left:1447.1px;top:857.0px;font-size:23px;line-height:30px;color:#fff;font-weight:700;letter-spacing:-1.59px;">11am-11:30am</div>
<div class="a" style="left:1628.6px;top:837.1px;width:20.0px;height:20.0px;border:2px solid #a4a4a4;border-radius:3.5px;box-sizing:border-box;"></div>
<svg class="a" style="left:1587.6px;top:835.8px;" width="22.5" height="22.5" viewBox="0 0 24 24" fill="#9e9e9e" stroke="none" stroke-width="0" stroke-linecap="round" stroke-linejoin="round"><path d="M9 3.9000000000000004Q9.9632 11.5368 17.6 12.5Q9.9632 13.4632 9 21.1Q8.0368 13.4632 0.40000000000000036 12.5Q8.0368 11.5368 9 3.9000000000000004ZM18.3 1.0Q18.8152 5.0847999999999995 22.9 5.6Q18.8152 6.1152 18.3 10.2Q17.7848 6.1152 13.700000000000001 5.6Q17.7848 5.0847999999999995 18.3 1.0ZM17.6 15.100000000000001Q18.070400000000003 18.8296 21.8 19.3Q18.070400000000003 19.770400000000002 17.6 23.5Q17.1296 19.770400000000002 13.400000000000002 19.3Q17.1296 18.8296 17.6 15.100000000000001Z"/></svg>
<div class="a" style="left:1429.0px;top:944.8px;width:232.5px;height:32.5px;background:#262626;border:2px solid #3b3b3b;border-radius:13px;box-sizing:border-box;overflow:hidden;"><div class="a" style="left:0;top:0;width:7.9px;bottom:0;background:#f5a033"></div></div>
<svg class="a" style="left:1447.1px;top:946.8px" width="24" height="24" viewBox="0 0 24 24"><rect x="2.900" y="20.600" width="17.300" height="2.200" rx=".5" fill="#86a0b5"/><path d="M10 20.600c0-2.300 1.500-4 3.900-4s3.900 1.700 3.900 4z" fill="#a9bccb"/><circle cx="12.700" cy="18.800" r=".9" fill="#c9b9b0"/><path d="M4.200 15.600l1.100-1.500 7 4.700-1.100 1.400z" fill="#9db2c2"/><path d="M16.600 9.800c2.200 1 3.300 3 3 5.400-.3 2.200-1.600 4-3.500 5.200l-1.200-1.500c1.400-.9 2.300-2.200 2.500-3.800.2-1.600-.5-2.900-2-3.600z" fill="#a9bccb"/><path d="M2.400 11.500l8.500 3.200-.6 1.600-8.500-3.200z" fill="#3a3a3c"/><path d="M6.200 11.800l4.600 2.800 1.200-2-4.600-2.800z" fill="#2c2c2e"/><g transform="rotate(43.500 10.500 5.900)"><rect x="7.700" y="0.500" width="5.600" height="10.800" rx=".8" fill="url(#gTube)"/><rect x="8.300" y="-2.600" width="4.400" height="3.300" rx=".6" fill="#34353a"/><rect x="8.700" y="-3.400" width="3.600" height="1.200" rx=".4" fill="#c3cfda"/><rect x="8.600" y="11.300" width="3.800" height="1.800" fill="#8f9aa6"/></g><circle cx="17" cy="7.900" r="1.600" fill="#fff"/><circle cx="14.300" cy="10.100" r=".95" fill="#f4f4f4"/></svg>
<div class="t " style="left:1477.1px;top:944.0px;font-size:23px;line-height:30px;color:#fff;font-weight:700;letter-spacing:-0.49px;">Letter N...</div>
<div class="a" style="left:1632.6px;top:950.9px;width:20.0px;height:20.0px;border:2px solid #a4a4a4;border-radius:3.5px;box-sizing:border-box;"></div>
<svg class="a" style="left:1591.6px;top:949.6px;" width="22.5" height="22.5" viewBox="0 0 24 24" fill="#9e9e9e" stroke="none" stroke-width="0" stroke-linecap="round" stroke-linejoin="round"><path d="M9 3.9000000000000004Q9.9632 11.5368 17.6 12.5Q9.9632 13.4632 9 21.1Q8.0368 13.4632 0.40000000000000036 12.5Q8.0368 11.5368 9 3.9000000000000004ZM18.3 1.0Q18.8152 5.0847999999999995 22.9 5.6Q18.8152 6.1152 18.3 10.2Q17.7848 6.1152 13.700000000000001 5.6Q17.7848 5.0847999999999995 18.3 1.0ZM17.6 15.100000000000001Q18.070400000000003 18.8296 21.8 19.3Q18.070400000000003 19.770400000000002 17.6 23.5Q17.1296 19.770400000000002 13.400000000000002 19.3Q17.1296 18.8296 17.6 15.100000000000001Z"/></svg>
<div class="a" style="left:1428.9px;top:1225.0px;width:232.4px;height:205.0px;background:#59120f;border-radius:12px;overflow:hidden;"><div class="a" style="left:10px;top:10px;width:8px;bottom:10px;border-radius:4px;background:#e35d57"></div></div>
<div class="t " style="left:1456.6px;top:1234.4px;font-size:23px;line-height:30px;color:#f1b0ac;font-weight:700;letter-spacing:-0.18px;">Compoun...</div>
<div class="t " style="left:1456.6px;top:1258.4px;font-size:24px;line-height:31px;color:#f1b0ac;font-weight:700;letter-spacing:-1.04px;">1:30pm-2:50pm</div>
<svg class="a" style="left:1625.4px;top:1237.2px;" width="24.2" height="24.2" viewBox="0 0 24 24" fill="none" stroke="#f1b0ac" stroke-width="1.9" stroke-linecap="round" stroke-linejoin="round"><path d="m17 2 4 4-4 4"/><path d="M3 11v-1a4 4 0 0 1 4-4h14"/><path d="m7 22-4-4 4-4"/><path d="M21 13v1a4 4 0 0 1-4 4H3"/></svg>
<div class="a" style="left:1428.9px;top:1465.0px;width:232.4px;height:205.0px;background:#59120f;border-radius:12px;overflow:hidden;"><div class="a" style="left:10px;top:10px;width:8px;bottom:10px;border-radius:4px;background:#e35d57"></div></div>
<div class="t " style="left:1456.6px;top:1474.4px;font-size:23px;line-height:30px;color:#f1b0ac;font-weight:700;letter-spacing:-0.18px;">Deep Lear...</div>
<div class="t " style="left:1456.6px;top:1498.4px;font-size:24px;line-height:31px;color:#f1b0ac;font-weight:700;letter-spacing:-0.47px;">3pm-4:20pm</div>
<svg class="a" style="left:1625.4px;top:1477.2px;" width="24.2" height="24.2" viewBox="0 0 24 24" fill="none" stroke="#f1b0ac" stroke-width="1.9" stroke-linecap="round" stroke-linejoin="round"><path d="m17 2 4 4-4 4"/><path d="M3 11v-1a4 4 0 0 1 4-4h14"/><path d="m7 22-4-4 4-4"/><path d="M21 13v1a4 4 0 0 1-4 4H3"/></svg>
<div class="a" style="left:1428.9px;top:1945.0px;width:232.4px;height:311.7px;background:#59120f;border-radius:12px;overflow:hidden;"><div class="a" style="left:10px;top:10px;width:8px;bottom:10px;border-radius:4px;background:#e35d57"></div></div>
<div class="t " style="left:1456.6px;top:1954.4px;font-size:23px;line-height:30px;color:#f1b0ac;font-weight:700;letter-spacing:0.18px;">6:30 Meeti...</div>
<div class="t " style="left:1456.6px;top:1978.4px;font-size:24px;line-height:31px;color:#f1b0ac;font-weight:700;letter-spacing:-0.24px;">6pm-8pm</div>
<svg class="a" style="left:1625.4px;top:1957.2px;" width="24.2" height="24.2" viewBox="0 0 24 24" fill="none" stroke="#f1b0ac" stroke-width="1.9" stroke-linecap="round" stroke-linejoin="round"><path d="M16 21v-2a4 4 0 0 0-4-4H6a4 4 0 0 0-4 4v2"/><circle cx="9" cy="7" r="4"/><path d="M22 21v-2a4 4 0 0 0-3-3.87"/><path d="M16 3.13a4 4 0 0 1 0 7.75"/></svg>
<div class="a" style="left:1669.3px;top:504.8px;width:232.5px;height:272.5px;background:#262626;border:2px solid #3b3b3b;border-radius:13px;box-sizing:border-box;overflow:hidden;"><div class="a" style="left:0;top:0;width:7.9px;bottom:0;background:#7cc576"></div></div>
<svg class="a" style="left:1687.4px;top:510.8px" width="24" height="24" viewBox="0 0 24 24"><path d="M12.2 0.4c2.300 1.100 4.800 1.700 7.600 1.800.200 8.500-1.600 16.500-7.600 22-6-5.500-7.800-13.500-7.600-22 2.800-.100 5.300-.700 7.600-1.800z" fill="#b9bcc0"/><path d="M12.200 1.600c2.100.900 4.300 1.400 6.500 1.600.100 7.600-1.500 14.500-6.500 19.400-5-4.900-6.600-11.800-6.500-19.400 2.200-.200 4.400-.700 6.500-1.600z" fill="url(#gShR)"/><path d="M12.200 1.600c-2.100.900-4.300 1.400-6.500 1.600-.100 7.600 1.500 14.500 6.500 19.400l-.8-1.200-1.500-2.400 3.900-2.400-4-2.700 4.100-3-4.100-2.600 4-2.700-3.800-2.400z" fill="#c8472e"/><path d="M10 2.400c-1.400.400-2.900.700-4.300.800-.100 7.100 1.300 13.600 5.600 18.400L9.900 19z" fill="url(#gShL)"/></svg>
<div class="t " style="left:1717.4px;top:509.4px;font-size:23px;line-height:30px;color:#fff;font-weight:700;letter-spacing:-0.35px;">Milesto...</div>
<div class="t " style="left:1687.4px;top:537.0px;font-size:23px;line-height:30px;color:#fff;font-weight:700;letter-spacing:-0.52px;">9am-10:45am</div>
<div class="a" style="left:1868.9px;top:517.1px;width:20.0px;height:20.0px;border:2px solid #a4a4a4;border-radius:3.5px;box-sizing:border-box;"></div>
<svg class="a" style="left:1827.9px;top:515.8px;" width="22.5" height="22.5" viewBox="0 0 24 24" fill="#9e9e9e" stroke="none" stroke-width="0" stroke-linecap="round" stroke-linejoin="round"><path d="M9 3.9000000000000004Q9.9632 11.5368 17.6 12.5Q9.9632 13.4632 9 21.1Q8.0368 13.4632 0.40000000000000036 12.5Q8.0368 11.5368 9 3.9000000000000004ZM18.3 1.0Q18.8152 5.0847999999999995 22.9 5.6Q18.8152 6.1152 18.3 10.2Q17.7848 6.1152 13.700000000000001 5.6Q17.7848 5.0847999999999995 18.3 1.0ZM17.6 15.100000000000001Q18.070400000000003 18.8296 21.8 19.3Q18.070400000000003 19.770400000000002 17.6 23.5Q17.1296 19.770400000000002 13.400000000000002 19.3Q17.1296 18.8296 17.6 15.100000000000001Z"/></svg>
<div class="a" style="left:1669.3px;top:824.8px;width:232.5px;height:72.5px;background:#262626;border:2px solid #3b3b3b;border-radius:13px;box-sizing:border-box;overflow:hidden;"><div class="a" style="left:0;top:0;width:7.9px;bottom:0;background:#7cc576"></div></div>
<svg class="a" style="left:1687.4px;top:830.8px" width="24" height="24" viewBox="0 0 24 24"><ellipse cx="16.200" cy="19.900" rx="3.900" ry="2.900" fill="#e27f93"/><path d="M0.300 12.600C0.300 6.600 5.500 2.300 12 2.300s11.900 4.400 11.900 10.300c0 3-1.700 5-4.300 5.700-2 .500-3.500.200-5 .500-1.800.300-3 .400-4.600.200-1.700-.200-3-.900-4-1.800C2.800 16.500 0.300 15.200 0.300 12.600z" fill="url(#gBrain)"/><path d="M5.500 15c2-.3 3.500.2 4.500 1.500M9 10.500c1.500-1.200 3.500-1 4.500.5M13 6.500c1 1.500 2.800 2 4.500 1.200M16.500 13c1.500-1 3.300-.5 4 1M4 9.500c1-.8 2.300-.8 3.200 0" stroke="#d76f8f" stroke-width="0.800" fill="none" stroke-linecap="round"/></svg>
<div class="t " style="left:1717.4px;top:829.4px;font-size:23px;line-height:30px;color:#fff;font-weight:700;letter-spacing:-0.81px;">Pre-Re...</div>
<div class="t " style="left:1687.4px;top:857.0px;font-size:23px;line-height:30px;color:#fff;font-weight:700;letter-spacing:-1.59px;">11am-11:30am</div>
<div class="a" style="left:1868.9px;top:837.1px;width:20.0px;height:20.0px;border:2px solid #a4a4a4;border-radius:3.5px;box-sizing:border-box;"></div>
<svg class="a" style="left:1827.9px;top:835.8px;" width="22.5" height="22.5" viewBox="0 0 24 24" fill="#9e9e9e" stroke="none" stroke-width="0" stroke-linecap="round" stroke-linejoin="round"><path d="M9 3.9000000000000004Q9.9632 11.5368 17.6 12.5Q9.9632 13.4632 9 21.1Q8.0368 13.4632 0.40000000000000036 12.5Q8.0368 11.5368 9 3.9000000000000004ZM18.3 1.0Q18.8152 5.0847999999999995 22.9 5.6Q18.8152 6.1152 18.3 10.2Q17.7848 6.1152 13.700000000000001 5.6Q17.7848 5.0847999999999995 18.3 1.0ZM17.6 15.100000000000001Q18.070400000000003 18.8296 21.8 19.3Q18.070400000000003 19.770400000000002 17.6 23.5Q17.1296 19.770400000000002 13.400000000000002 19.3Q17.1296 18.8296 17.6 15.100000000000001Z"/></svg>
<div class="a" style="left:1669.2px;top:985.0px;width:232.4px;height:205.0px;background:#59120f;border-radius:12px;overflow:hidden;"><div class="a" style="left:10px;top:10px;width:8px;bottom:10px;border-radius:4px;background:#e35d57"></div></div>
<div class="t " style="left:1696.9px;top:994.4px;font-size:23px;line-height:30px;color:#f1b0ac;font-weight:700;letter-spacing:-0.43px;">Frontier Sy...</div>
<div class="t " style="left:1696.9px;top:1018.4px;font-size:24px;line-height:31px;color:#f1b0ac;font-weight:700;letter-spacing:-1.46px;">12pm-1:20pm</div>
<svg class="a" style="left:1865.7px;top:997.2px;" width="24.2" height="24.2" viewBox="0 0 24 24" fill="none" stroke="#f1b0ac" stroke-width="1.9" stroke-linecap="round" stroke-linejoin="round"><path d="m17 2 4 4-4 4"/><path d="M3 11v-1a4 4 0 0 1 4-4h14"/><path d="m7 22-4-4 4-4"/><path d="M21 13v1a4 4 0 0 1-4 4H3"/></svg>
<div class="a" style="left:1669.3px;top:1264.8px;width:232.5px;height:72.5px;background:#262626;border:2px solid #3b3b3b;border-radius:13px;box-sizing:border-box;overflow:hidden;"><div class="a" style="left:0;top:0;width:7.9px;bottom:0;background:#7cc576"></div></div>
<svg class="a" style="left:1687.4px;top:1270.8px" width="24" height="24" viewBox="0 0 24 24"><ellipse cx="16.200" cy="19.900" rx="3.900" ry="2.900" fill="#e27f93"/><path d="M0.300 12.600C0.300 6.600 5.500 2.300 12 2.300s11.900 4.400 11.900 10.300c0 3-1.700 5-4.300 5.700-2 .500-3.500.200-5 .500-1.800.300-3 .400-4.600.200-1.700-.200-3-.900-4-1.800C2.800 16.500 0.300 15.200 0.300 12.600z" fill="url(#gBrain)"/><path d="M5.500 15c2-.3 3.500.2 4.500 1.500M9 10.500c1.500-1.200 3.500-1 4.500.5M13 6.500c1 1.500 2.800 2 4.500 1.200M16.500 13c1.500-1 3.300-.5 4 1M4 9.500c1-.8 2.300-.8 3.200 0" stroke="#d76f8f" stroke-width="0.800" fill="none" stroke-linecap="round"/></svg>
<div class="t " style="left:1717.4px;top:1269.4px;font-size:23px;line-height:30px;color:#fff;font-weight:700;letter-spacing:-0.81px;">Pre-Re...</div>
<div class="t " style="left:1687.4px;top:1297.0px;font-size:23px;line-height:30px;color:#fff;font-weight:700;letter-spacing:-0.98px;">1:45pm-2:15pm</div>
<div class="a" style="left:1868.9px;top:1277.1px;width:20.0px;height:20.0px;border:2px solid #a4a4a4;border-radius:3.5px;box-sizing:border-box;"></div>
<svg class="a" style="left:1827.9px;top:1275.8px;" width="22.5" height="22.5" viewBox="0 0 24 24" fill="#9e9e9e" stroke="none" stroke-width="0" stroke-linecap="round" stroke-linejoin="round"><path d="M9 3.9000000000000004Q9.9632 11.5368 17.6 12.5Q9.9632 13.4632 9 21.1Q8.0368 13.4632 0.40000000000000036 12.5Q8.0368 11.5368 9 3.9000000000000004ZM18.3 1.0Q18.8152 5.0847999999999995 22.9 5.6Q18.8152 6.1152 18.3 10.2Q17.7848 6.1152 13.700000000000001 5.6Q17.7848 5.0847999999999995 18.3 1.0ZM17.6 15.100000000000001Q18.070400000000003 18.8296 21.8 19.3Q18.070400000000003 19.770400000000002 17.6 23.5Q17.1296 19.770400000000002 13.400000000000002 19.3Q17.1296 18.8296 17.6 15.100000000000001Z"/></svg>
<div class="a" style="left:1669.2px;top:1465.0px;width:232.4px;height:205.0px;background:#59120f;border-radius:12px;overflow:hidden;"><div class="a" style="left:10px;top:10px;width:8px;bottom:10px;border-radius:4px;background:#e35d57"></div></div>
<div class="t " style="left:1696.9px;top:1474.4px;font-size:23px;line-height:30px;color:#f1b0ac;font-weight:700;letter-spacing:-0.69px;">Trust and S...</div>
<div class="t " style="left:1696.9px;top:1498.4px;font-size:24px;line-height:31px;color:#f1b0ac;font-weight:700;letter-spacing:-0.47px;">3pm-4:20pm</div>
<svg class="a" style="left:1865.7px;top:1477.2px;" width="24.2" height="24.2" viewBox="0 0 24 24" fill="none" stroke="#f1b0ac" stroke-width="1.9" stroke-linecap="round" stroke-linejoin="round"><path d="m17 2 4 4-4 4"/><path d="M3 11v-1a4 4 0 0 1 4-4h14"/><path d="m7 22-4-4 4-4"/><path d="M21 13v1a4 4 0 0 1-4 4H3"/></svg>
<div class="a" style="left:1669.2px;top:1945.0px;width:232.4px;height:311.7px;background:#59120f;border-radius:12px;overflow:hidden;"><div class="a" style="left:10px;top:10px;width:8px;bottom:10px;border-radius:4px;background:#e35d57"></div></div>
<div class="t " style="left:1696.9px;top:1954.4px;font-size:23px;line-height:30px;color:#f1b0ac;font-weight:700;letter-spacing:-0.42px;">Dinner w J...</div>
<div class="t " style="left:1696.9px;top:1978.4px;font-size:24px;line-height:31px;color:#f1b0ac;font-weight:700;letter-spacing:-0.24px;">6pm-8pm</div>
<svg class="a" style="left:1865.7px;top:1957.2px;" width="24.2" height="24.2" viewBox="0 0 24 24" fill="none" stroke="#f1b0ac" stroke-width="1.9" stroke-linecap="round" stroke-linejoin="round"><path d="M16 21v-2a4 4 0 0 0-4-4H6a4 4 0 0 0-4 4v2"/><circle cx="9" cy="7" r="4"/><path d="M22 21v-2a4 4 0 0 0-3-3.87"/><path d="M16 3.13a4 4 0 0 1 0 7.75"/></svg>
<div class="a" style="left:1909.6px;top:504.8px;width:232.5px;height:312.5px;background:#262626;border:2px solid #3b3b3b;border-radius:13px;box-sizing:border-box;overflow:hidden;"><div class="a" style="left:0;top:0;width:7.9px;bottom:0;background:#7f97a8"></div></div>
<svg class="a" style="left:1927.7px;top:510.8px" width="24" height="24" viewBox="0 0 24 24"><g transform="rotate(45 12 12)"><rect x="9.3" y="-3.2" width="5.4" height="30.4" rx="2.7" fill="#c4cdc6" stroke="#69736c" stroke-width="0.8"/><rect x="10" y="5" width="4" height="21.5" rx="2" fill="#3fbf4a"/><rect x="10.500" y="5.500" width="1.300" height="19" rx="0.600" fill="#93e897"/><rect x="8.600" y="-3.500" width="6.800" height="2.300" rx="1" fill="#8d9891"/></g></svg>
<div class="t " style="left:1957.7px;top:509.4px;font-size:23px;line-height:30px;color:#fff;font-weight:700;letter-spacing:-1.07px;">Fina...</div>
<div class="t " style="left:1927.7px;top:537.0px;font-size:23px;line-height:30px;color:#fff;font-weight:700;letter-spacing:-1.03px;">9am-11am</div>
<div class="a" style="left:2109.2px;top:517.1px;width:20.0px;height:20.0px;border:2px solid #a4a4a4;border-radius:3.5px;box-sizing:border-box;"></div>
<div class="t " style="left:2068.2px;top:510.4px;font-size:17px;line-height:22px;color:#a0a0a0;font-weight:700;">1</div>
<div class="a" style="left:2078.2px;top:515.8px;width:2.4px;height:25px;background:#a0a0a0;transform:rotate(22deg);border-radius:1px"></div>
<div class="t " style="left:2084.2px;top:522.9px;font-size:17px;line-height:22px;color:#a0a0a0;font-weight:700;">2</div>
<svg class="a" style="left:2033.2px;top:515.8px;" width="22.5" height="22.5" viewBox="0 0 24 24" fill="#9e9e9e" stroke="none" stroke-width="0" stroke-linecap="round" stroke-linejoin="round"><path d="M9 3.9000000000000004Q9.9632 11.5368 17.6 12.5Q9.9632 13.4632 9 21.1Q8.0368 13.4632 0.40000000000000036 12.5Q8.0368 11.5368 9 3.9000000000000004ZM18.3 1.0Q18.8152 5.0847999999999995 22.9 5.6Q18.8152 6.1152 18.3 10.2Q17.7848 6.1152 13.700000000000001 5.6Q17.7848 5.0847999999999995 18.3 1.0ZM17.6 15.100000000000001Q18.070400000000003 18.8296 21.8 19.3Q18.070400000000003 19.770400000000002 17.6 23.5Q17.1296 19.770400000000002 13.400000000000002 19.3Q17.1296 18.8296 17.6 15.100000000000001Z"/></svg>
<div class="a" style="left:1909.6px;top:864.8px;width:232.5px;height:72.5px;background:#262626;border:2px solid #3b3b3b;border-radius:13px;box-sizing:border-box;overflow:hidden;"><div class="a" style="left:0;top:0;width:7.9px;bottom:0;background:#7cc576"></div></div>
<svg class="a" style="left:1927.7px;top:870.8px" width="24" height="24" viewBox="0 0 24 24"><path d="M12.2 0.4c2.300 1.100 4.800 1.700 7.600 1.800.200 8.500-1.600 16.500-7.600 22-6-5.500-7.800-13.500-7.600-22 2.800-.100 5.300-.700 7.600-1.800z" fill="#b9bcc0"/><path d="M12.200 1.600c2.100.900 4.300 1.400 6.500 1.600.100 7.600-1.500 14.500-6.500 19.400-5-4.900-6.600-11.800-6.500-19.400 2.200-.200 4.400-.700 6.500-1.600z" fill="url(#gShR)"/><path d="M12.200 1.600c-2.100.900-4.300 1.400-6.500 1.600-.100 7.600 1.500 14.500 6.500 19.400l-.8-1.200-1.500-2.400 3.900-2.400-4-2.700 4.100-3-4.100-2.600 4-2.700-3.800-2.400z" fill="#c8472e"/><path d="M10 2.400c-1.400.400-2.900.700-4.300.800-.100 7.100 1.300 13.600 5.600 18.400L9.900 19z" fill="url(#gShL)"/></svg>
<div class="t " style="left:1957.7px;top:869.4px;font-size:23px;line-height:30px;color:#fff;font-weight:700;letter-spacing:-0.81px;">Pre-Re...</div>
<div class="t " style="left:1927.7px;top:897.0px;font-size:23px;line-height:30px;color:#fff;font-weight:700;letter-spacing:-1.68px;">11:15am-11:45am</div>
<div class="a" style="left:2109.2px;top:877.1px;width:20.0px;height:20.0px;border:2px solid #a4a4a4;border-radius:3.5px;box-sizing:border-box;"></div>
<svg class="a" style="left:2068.2px;top:875.8px;" width="22.5" height="22.5" viewBox="0 0 24 24" fill="#9e9e9e" stroke="none" stroke-width="0" stroke-linecap="round" stroke-linejoin="round"><path d="M9 3.9000000000000004Q9.9632 11.5368 17.6 12.5Q9.9632 13.4632 9 21.1Q8.0368 13.4632 0.40000000000000036 12.5Q8.0368 11.5368 9 3.9000000000000004ZM18.3 1.0Q18.8152 5.0847999999999995 22.9 5.6Q18.8152 6.1152 18.3 10.2Q17.7848 6.1152 13.700000000000001 5.6Q17.7848 5.0847999999999995 18.3 1.0ZM17.6 15.100000000000001Q18.070400000000003 18.8296 21.8 19.3Q18.070400000000003 19.770400000000002 17.6 23.5Q17.1296 19.770400000000002 13.400000000000002 19.3Q17.1296 18.8296 17.6 15.100000000000001Z"/></svg>
<div class="a" style="left:1909.6px;top:1144.8px;width:232.5px;height:312.5px;background:#262626;border:2px solid #3b3b3b;border-radius:13px;box-sizing:border-box;overflow:hidden;"><div class="a" style="left:0;top:0;width:7.9px;bottom:0;background:#7f97a8"></div></div>
<svg class="a" style="left:1927.7px;top:1150.8px" width="24" height="24" viewBox="0 0 24 24"><rect x="2.800" y="16" width="18.400" height="7.700" rx=".8" fill="#343436"/><rect x="3.600" y="17.300" width="16.800" height="3" fill="#444446"/><rect x="3.600" y="21.700" width="16.800" height=".5" fill="#555"/><rect x="2" y="10.100" width="21" height="4.300" rx=".5" fill="#1c1c1e"/><path d="M3.900 10.100h3.700L4.700 14.400H2V12.600zM11.300 10.100h4L12.500 14.400H8.700zM18.700 10.100h4.200L20.100 14.400h-4z" fill="#f1f1f1"/><path d="M2 9.200l3.600-.6.900 3.800-3.200.5z" fill="#dfe6ec"/><g transform="rotate(-17.500 2.500 9.500)"><rect x="2" y="5.200" width="21.400" height="3.600" rx=".5" fill="#1c1c1e"/><path d="M2.300 5.200h5.200l1.800 3.600H4.100zM9.900 5.200h5.200l1.800 3.600h-5.200zM17.500 5.200h5.200l.7 1.500v2.100h-4.100z" fill="#f4f4f4"/></g></svg>
<div class="t " style="left:1957.7px;top:1149.4px;font-size:23px;line-height:30px;color:#fff;font-weight:700;letter-spacing:-0.42px;">Create ...</div>
<div class="t " style="left:1927.7px;top:1177.0px;font-size:23px;line-height:30px;color:#fff;font-weight:700;letter-spacing:-0.42px;">1pm-3pm</div>
<div class="a" style="left:2109.2px;top:1157.1px;width:20.0px;height:20.0px;border:2px solid #a4a4a4;border-radius:3.5px;box-sizing:border-box;"></div>
<svg class="a" style="left:2068.2px;top:1155.8px;" width="22.5" height="22.5" viewBox="0 0 24 24" fill="#9e9e9e" stroke="none" stroke-width="0" stroke-linecap="round" stroke-linejoin="round"><path d="M9 3.9000000000000004Q9.9632 11.5368 17.6 12.5Q9.9632 13.4632 9 21.1Q8.0368 13.4632 0.40000000000000036 12.5Q8.0368 11.5368 9 3.9000000000000004ZM18.3 1.0Q18.8152 5.0847999999999995 22.9 5.6Q18.8152 6.1152 18.3 10.2Q17.7848 6.1152 13.700000000000001 5.6Q17.7848 5.0847999999999995 18.3 1.0ZM17.6 15.100000000000001Q18.070400000000003 18.8296 21.8 19.3Q18.070400000000003 19.770400000000002 17.6 23.5Q17.1296 19.770400000000002 13.400000000000002 19.3Q17.1296 18.8296 17.6 15.100000000000001Z"/></svg>
<div class="a" style="left:1909.5px;top:1545.0px;width:232.4px;height:151.7px;background:#59120f;border-radius:12px;overflow:hidden;"><div class="a" style="left:10px;top:10px;width:8px;bottom:10px;border-radius:4px;background:#e35d57"></div></div>
<div class="t " style="left:1937.2px;top:1554.4px;font-size:23px;line-height:30px;color:#f1b0ac;font-weight:700;letter-spacing:-0.07px;">3:40 Cyto...</div>
<div class="t " style="left:1937.2px;top:1578.4px;font-size:24px;line-height:31px;color:#f1b0ac;font-weight:700;letter-spacing:-0.58px;">3:30pm-4:30pm</div>
<svg class="a" style="left:2105.9px;top:1557.2px;" width="24.2" height="24.2" viewBox="0 0 24 24" fill="none" stroke="#f1b0ac" stroke-width="1.9" stroke-linecap="round" stroke-linejoin="round"><path d="M16 21v-2a4 4 0 0 0-4-4H6a4 4 0 0 0-4 4v2"/><circle cx="9" cy="7" r="4"/><path d="M22 21v-2a4 4 0 0 0-3-3.87"/><path d="M16 3.13a4 4 0 0 1 0 7.75"/></svg>
<div class="a" style="left:2149.8px;top:984.8px;width:232.5px;height:112.5px;background:#262626;border:2px solid #3b3b3b;border-radius:13px;box-sizing:border-box;overflow:hidden;"><div class="a" style="left:0;top:0;width:7.9px;bottom:0;background:#7f97a8"></div></div>
<svg class="a" style="left:2167.9px;top:990.8px" width="24" height="24" viewBox="0 0 24 24"><g transform="rotate(45 12 12)"><rect x="9.3" y="-3.2" width="5.4" height="30.4" rx="2.7" fill="#c4cdc6" stroke="#69736c" stroke-width="0.8"/><rect x="10" y="5" width="4" height="21.5" rx="2" fill="#3fbf4a"/><rect x="10.500" y="5.500" width="1.300" height="19" rx="0.600" fill="#93e897"/><rect x="8.600" y="-3.500" width="6.800" height="2.300" rx="1" fill="#8d9891"/></g></svg>
<div class="t " style="left:2197.9px;top:989.4px;font-size:23px;line-height:30px;color:#fff;font-weight:700;letter-spacing:-1.07px;">Fina...</div>
<div class="t " style="left:2167.9px;top:1017.0px;font-size:23px;line-height:30px;color:#fff;font-weight:700;letter-spacing:-0.84px;">12pm-12:45pm</div>
<div class="a" style="left:2349.4px;top:997.1px;width:20.0px;height:20.0px;border:2px solid #a4a4a4;border-radius:3.5px;box-sizing:border-box;"></div>
<div class="t " style="left:2308.4px;top:990.4px;font-size:17px;line-height:22px;color:#a0a0a0;font-weight:700;">2</div>
<div class="a" style="left:2318.4px;top:995.8px;width:2.4px;height:25px;background:#a0a0a0;transform:rotate(22deg);border-radius:1px"></div>
<div class="t " style="left:2324.4px;top:1002.9px;font-size:17px;line-height:22px;color:#a0a0a0;font-weight:700;">2</div>
<svg class="a" style="left:2273.4px;top:995.8px;" width="22.5" height="22.5" viewBox="0 0 24 24" fill="#9e9e9e" stroke="none" stroke-width="0" stroke-linecap="round" stroke-linejoin="round"><path d="M9 3.9000000000000004Q9.9632 11.5368 17.6 12.5Q9.9632 13.4632 9 21.1Q8.0368 13.4632 0.40000000000000036 12.5Q8.0368 11.5368 9 3.9000000000000004ZM18.3 1.0Q18.8152 5.0847999999999995 22.9 5.6Q18.8152 6.1152 18.3 10.2Q17.7848 6.1152 13.700000000000001 5.6Q17.7848 5.0847999999999995 18.3 1.0ZM17.6 15.100000000000001Q18.070400000000003 18.8296 21.8 19.3Q18.070400000000003 19.770400000000002 17.6 23.5Q17.1296 19.770400000000002 13.400000000000002 19.3Q17.1296 18.8296 17.6 15.100000000000001Z"/></svg>
<div class="a" style="left:2149.8px;top:1144.8px;width:232.5px;height:72.5px;background:#262626;border:2px solid #3b3b3b;border-radius:13px;box-sizing:border-box;overflow:hidden;"><div class="a" style="left:0;top:0;width:7.9px;bottom:0;background:#7cc576"></div></div>
<svg class="a" style="left:2167.9px;top:1150.8px" width="24" height="24" viewBox="0 0 24 24"><path d="M3.600 24.200c.3-4.300 2.300-6.700 5.700-7.400l3.300 1.600 3.300-1.600c3.300.7 5.200 3.100 5.500 7.400z" fill="#b1a585"/><path d="M9.800 17.600l2.800 1.700 2.800-1.700-.6 4-2.200 2.400-2.200-2.400z" fill="#f4f4f6"/><path d="M12.100 19.600h1l.5 4.400h-2z" fill="#2a2f3a"/><path d="M5.700 8.200h14.100c.3 3.600-.6 6.300-2.300 8.100-1.500 1.600-3.100 2.400-4.800 2.400s-3.300-.8-4.800-2.400C6.300 14.500 5.400 11.800 5.700 8.200z" fill="url(#gFace)"/><ellipse cx="9.500" cy="11.200" rx=".85" ry="1.250" fill="#4a2c12"/><ellipse cx="15.500" cy="11.200" rx=".85" ry="1.250" fill="#4a2c12"/><ellipse cx="12.600" cy="15.900" rx="1" ry=".7" fill="#b5651d"/><path d="M3.400 7.200c1.300-.9 2.400-1 3.500-.6C6.700 3 8 .6 9.900.5c1.200 0 2 .6 2.700 1.500.7-.9 1.500-1.500 2.700-1.500 1.900.1 3.200 2.500 3 6.100 1.100-.4 2.200-.3 3.500.6-1.800 1.300-5 2-9.200 2s-7.400-.7-9.200-2z" fill="#5d5850"/><path d="M3.400 7.200c1.800 1.300 5 2 9.200 2s7.400-.7 9.200-2c-.2.800-.9 1.400-2 1.900-1.800.700-4.300 1.100-7.200 1.100s-5.400-.4-7.200-1.100c-1.100-.5-1.800-1.100-2-1.900z" fill="#26262a"/><path d="M20.600 21.200l.6 0 .3 3.200h-1.200z" fill="#b1a585"/><circle cx="20.800" cy="18.700" r="2.800" fill="#a8bfd2"/><circle cx="20.800" cy="18.700" r="2" fill="#d5e3ee"/><circle cx="20.200" cy="17.900" r=".8" fill="#fff"/></svg>
<div class="t " style="left:2197.9px;top:1149.4px;font-size:23px;line-height:30px;color:#fff;font-weight:700;letter-spacing:-0.81px;">Pre-Re...</div>
<div class="t " style="left:2167.9px;top:1177.0px;font-size:23px;line-height:30px;color:#fff;font-weight:700;letter-spacing:-1.05px;">1pm-1:30pm</div>
<div class="a" style="left:2349.4px;top:1157.1px;width:20.0px;height:20.0px;border:2px solid #a4a4a4;border-radius:3.5px;box-sizing:border-box;"></div>
<svg class="a" style="left:2308.4px;top:1155.8px;" width="22.5" height="22.5" viewBox="0 0 24 24" fill="#9e9e9e" stroke="none" stroke-width="0" stroke-linecap="round" stroke-linejoin="round"><path d="M9 3.9000000000000004Q9.9632 11.5368 17.6 12.5Q9.9632 13.4632 9 21.1Q8.0368 13.4632 0.40000000000000036 12.5Q8.0368 11.5368 9 3.9000000000000004ZM18.3 1.0Q18.8152 5.0847999999999995 22.9 5.6Q18.8152 6.1152 18.3 10.2Q17.7848 6.1152 13.700000000000001 5.6Q17.7848 5.0847999999999995 18.3 1.0ZM17.6 15.100000000000001Q18.070400000000003 18.8296 21.8 19.3Q18.070400000000003 19.770400000000002 17.6 23.5Q17.1296 19.770400000000002 13.400000000000002 19.3Q17.1296 18.8296 17.6 15.100000000000001Z"/></svg>
<div class="a" style="left:2149.8px;top:1264.8px;width:232.5px;height:312.5px;background:#262626;border:2px solid #3b3b3b;border-radius:13px;box-sizing:border-box;overflow:hidden;"><div class="a" style="left:0;top:0;width:7.9px;bottom:0;background:#7f97a8"></div></div>
<svg class="a" style="left:2167.9px;top:1270.8px" width="24" height="24" viewBox="0 0 24 24"><path d="M7.200 15.800c-1.800 1-3.800 3.600-5.800 7.600 2.600-.3 5.200-1.600 7.600-4.200z" fill="url(#gFlame)"/><path d="M9.400 8.600C6 9.600 2.800 12 0.700 15.300l1.500.2 4.800-.9 3-3.200z" fill="#ee4a2a"/><path d="M15.200 15.600c-.8 3.400-2.600 6-5.400 7.900l.5-4.900 2.400-3.300z" fill="#ee4a2a"/><g transform="rotate(-41 15.200 8.800)"><path d="M4.800 8.800c0-2.300 4.200-4 9.800-4 4.600 0 8.900 1.600 11.200 4-2.300 2.400-6.600 4-11.200 4-5.600 0-9.800-1.700-9.800-4z" fill="url(#gRock)"/><path d="M4.800 8.800c0-1.100 1-2.100 2.600-2.800v5.600c-1.600-.7-2.600-1.700-2.600-2.800z" fill="#2f5fa3"/><path d="M21.500 6.200c1.700.6 3.200 1.500 4.300 2.600-1.100 1.100-2.600 2-4.300 2.600.5-1.700.5-3.500 0-5.200z" fill="#3f74c8"/><circle cx="16.800" cy="8.600" r="2.700" fill="#d96a62"/><circle cx="16.800" cy="8.600" r="2" fill="#101418"/></g></svg>
<div class="t " style="left:2197.9px;top:1269.4px;font-size:23px;line-height:30px;color:#fff;font-weight:700;letter-spacing:-1.05px;">Launch...</div>
<div class="t " style="left:2167.9px;top:1297.0px;font-size:23px;line-height:30px;color:#fff;font-weight:700;letter-spacing:-0.44px;">1:45pm-3:45pm</div>
<div class="a" style="left:2349.4px;top:1277.1px;width:20.0px;height:20.0px;border:2px solid #a4a4a4;border-radius:3.5px;box-sizing:border-box;"></div>
<svg class="a" style="left:2308.4px;top:1275.8px;" width="22.5" height="22.5" viewBox="0 0 24 24" fill="#9e9e9e" stroke="none" stroke-width="0" stroke-linecap="round" stroke-linejoin="round"><path d="M9 3.9000000000000004Q9.9632 11.5368 17.6 12.5Q9.9632 13.4632 9 21.1Q8.0368 13.4632 0.40000000000000036 12.5Q8.0368 11.5368 9 3.9000000000000004ZM18.3 1.0Q18.8152 5.0847999999999995 22.9 5.6Q18.8152 6.1152 18.3 10.2Q17.7848 6.1152 13.700000000000001 5.6Q17.7848 5.0847999999999995 18.3 1.0ZM17.6 15.100000000000001Q18.070400000000003 18.8296 21.8 19.3Q18.070400000000003 19.770400000000002 17.6 23.5Q17.1296 19.770400000000002 13.400000000000002 19.3Q17.1296 18.8296 17.6 15.100000000000001Z"/></svg>
<div class="a" style="left:2149.7px;top:2105.0px;width:232.4px;height:711.7px;background:#59120f;border-radius:12px;overflow:hidden;"><div class="a" style="left:10px;top:10px;width:8px;bottom:10px;border-radius:4px;background:#e35d57"></div></div>
<div class="t " style="left:2177.4px;top:2114.4px;font-size:23px;line-height:30px;color:#f1b0ac;font-weight:700;letter-spacing:-0.32px;">Party at Will&#x27;s h...</div>
<div class="t " style="left:2177.4px;top:2138.4px;font-size:24px;line-height:31px;color:#f1b0ac;font-weight:700;letter-spacing:-1.44px;">7pm-11:30pm</div>
<div class="a" style="left:2386.0px;top:0.0px;width:768.0px;height:2191.0px;background:#121212;"></div>
<div class="a" style="left:2388.0px;top:0.0px;width:766.0px;height:96.0px;background:#151515;"></div>
<div class="a" style="left:2386.0px;top:0.0px;width:2.0px;height:2191.0px;background:#272727;"></div>
<div class="t " style="left:2412.0px;top:28.3px;font-size:32px;line-height:42px;color:#a0a0a0;letter-spacing:0.28px;-webkit-text-stroke:1.0px #a0a0a0;">Agent</div>
<svg class="a" style="left:3012px;top:43px" width="30" height="10" viewBox="0 0 30 10" fill="#f4f4f4"><circle cx="5" cy="5" r="2.9"/><circle cx="14.2" cy="5" r="2.9"/><circle cx="23.400" cy="5" r="2.9"/></svg>
<svg class="a" style="left:3082.3px;top:32.1px;" width="32" height="32" viewBox="0 0 24 24" fill="none" stroke="#f4f4f4" stroke-width="2.2" stroke-linecap="round" stroke-linejoin="round"><path d="M18 6 6 18M6 6l12 12"/></svg>
<div class="a" style="left:2388.0px;top:96.0px;width:766.0px;height:2.0px;background:#272727;"></div>
<div class="a" style="left:2388px;top:98px;width:766px;height:1900px;overflow:hidden">
<div class="a" style="left:248.8px;top:-44px;width:485.2px;height:68px;background:#262626;border-radius:20px"></div>
<div class="t " style="left:271.6px;top:-22.4px;font-size:28.5px;line-height:37px;color:#f4f4f4;letter-spacing:-0.43px;-webkit-text-stroke:0.25px #f4f4f4;">What do I have going on this week?</div>
<div class="t " style="left:32.0px;top:58.1px;font-size:28.5px;line-height:37px;color:#f4f4f4;letter-spacing:-0.43px;-webkit-text-stroke:0.25px #f4f4f4;">Looking at your schedule, Jamie, you&#x27;ve got a packed</div>
<div class="t " style="left:32.0px;top:98.1px;font-size:28.5px;line-height:37px;color:#f4f4f4;letter-spacing:-0.38px;-webkit-text-stroke:0.25px #f4f4f4;">week ahead:</div>
<div class="t " style="left:32.0px;top:154.1px;font-size:28.5px;line-height:37px;color:#f4f4f4;font-weight:700;letter-spacing:-1.18px;">Today (Tuesday)</div>
<div class="t " style="left:64.5px;top:218.1px;font-size:28.5px;line-height:37px;color:#f4f4f4;letter-spacing:-0.62px;-webkit-text-stroke:0.25px #f4f4f4;">Trust and Safety class just wrapped up (3-4:20pm)</div>
<div class="a" style="left:38.7px;top:232.3px;width:9.4px;height:9.4px;border-radius:50%;background:#f4f4f4"></div>
<div class="t " style="left:64.5px;top:274.1px;font-size:28.5px;line-height:37px;color:#f4f4f4;letter-spacing:-0.58px;-webkit-text-stroke:0.25px #f4f4f4;">You still have Lecture 6 paper summaries scheduled</div>
<div class="t " style="left:64.5px;top:314.1px;font-size:28.5px;line-height:37px;color:#f4f4f4;letter-spacing:-0.21px;-webkit-text-stroke:0.25px #f4f4f4;">for 7:30pm tonight</div>
<div class="a" style="left:38.7px;top:288.3px;width:9.4px;height:9.4px;border-radius:50%;background:#f4f4f4"></div>
<div class="t " style="left:32.0px;top:378.1px;font-size:28.5px;line-height:37px;color:#f4f4f4;font-weight:700;letter-spacing:-1.04px;">Wednesday</div>
<div class="t " style="left:189.0px;top:378.1px;font-size:28.5px;line-height:37px;color:#f4f4f4;letter-spacing:-0.50px;-webkit-text-stroke:0.25px #f4f4f4;">- busy day</div>
<div class="t " style="left:64.5px;top:442.1px;font-size:28.5px;line-height:37px;color:#f4f4f4;letter-spacing:-0.52px;-webkit-text-stroke:0.25px #f4f4f4;">Pay Stanford enrollment at 8am, then a plumber at</div>
<div class="t " style="left:64.5px;top:482.1px;font-size:28.5px;line-height:37px;color:#f4f4f4;letter-spacing:-0.98px;-webkit-text-stroke:0.25px #f4f4f4;">9am</div>
<div class="a" style="left:38.7px;top:456.3px;width:9.4px;height:9.4px;border-radius:50%;background:#f4f4f4"></div>
<div class="t " style="left:64.5px;top:538.1px;font-size:28.5px;line-height:37px;color:#f4f4f4;letter-spacing:-0.73px;-webkit-text-stroke:0.25px #f4f4f4;">Compound AI Systems (1:30pm) and Deep Learning</div>
<div class="t " style="left:64.5px;top:578.1px;font-size:28.5px;line-height:37px;color:#f4f4f4;letter-spacing:-0.45px;-webkit-text-stroke:0.25px #f4f4f4;">Genomics (3pm)</div>
<div class="a" style="left:38.7px;top:552.3px;width:9.4px;height:9.4px;border-radius:50%;background:#f4f4f4"></div>
<div class="t " style="left:64.5px;top:634.1px;font-size:28.5px;line-height:37px;color:#f4f4f4;letter-spacing:-0.47px;-webkit-text-stroke:0.25px #f4f4f4;">Evening meeting at Maritz house (6pm)</div>
<div class="a" style="left:38.7px;top:648.3px;width:9.4px;height:9.4px;border-radius:50%;background:#f4f4f4"></div>
<div class="t " style="left:32.0px;top:698.1px;font-size:28.5px;line-height:37px;color:#f4f4f4;font-weight:700;letter-spacing:-2.00px;">Thursday</div>
<div class="t " style="left:64.5px;top:762.1px;font-size:28.5px;line-height:37px;color:#f4f4f4;letter-spacing:-0.53px;-webkit-text-stroke:0.25px #f4f4f4;">Milestone 1 - Abuse Study and Content Policy Memo</div>
<div class="t " style="left:64.5px;top:802.1px;font-size:28.5px;line-height:37px;color:#f4f4f4;letter-spacing:-0.19px;-webkit-text-stroke:0.25px #f4f4f4;">due (scheduled 9am work block)</div>
<div class="a" style="left:38.7px;top:776.3px;width:9.4px;height:9.4px;border-radius:50%;background:#f4f4f4"></div>
<div class="t " style="left:64.5px;top:858.1px;font-size:28.5px;line-height:37px;color:#f4f4f4;letter-spacing:-0.46px;-webkit-text-stroke:0.25px #f4f4f4;">Two pre-read quizzes: Adolescent Well Being, plus</div>
<div class="t " style="left:64.5px;top:898.1px;font-size:28.5px;line-height:37px;color:#f4f4f4;letter-spacing:-0.79px;-webkit-text-stroke:0.25px #f4f4f4;">Suicide and Self-Harm</div>
<div class="a" style="left:38.7px;top:872.3px;width:9.4px;height:9.4px;border-radius:50%;background:#f4f4f4"></div>
<div class="t " style="left:64.5px;top:954.1px;font-size:28.5px;line-height:37px;color:#f4f4f4;letter-spacing:-0.95px;-webkit-text-stroke:0.25px #f4f4f4;">Frontier Systems and Trust and Safety classes</div>
<div class="a" style="left:38.7px;top:968.3px;width:9.4px;height:9.4px;border-radius:50%;background:#f4f4f4"></div>
<div class="t " style="left:64.5px;top:1010.1px;font-size:28.5px;line-height:37px;color:#f4f4f4;letter-spacing:-0.66px;-webkit-text-stroke:0.25px #f4f4f4;">Dinner with Jane and Jerry at 6pm</div>
<div class="a" style="left:38.7px;top:1024.3px;width:9.4px;height:9.4px;border-radius:50%;background:#f4f4f4"></div>
<div class="t " style="left:32.0px;top:1074.1px;font-size:28.5px;line-height:37px;color:#f4f4f4;font-weight:700;letter-spacing:-1.86px;">Friday</div>
<div class="t " style="left:64.5px;top:1138.1px;font-size:28.5px;line-height:37px;color:#f4f4f4;letter-spacing:-0.70px;-webkit-text-stroke:0.25px #f4f4f4;">Final Project Proposal work</div>
<div class="a" style="left:38.7px;top:1152.3px;width:9.4px;height:9.4px;border-radius:50%;background:#f4f4f4"></div>
<div class="t " style="left:64.5px;top:1194.1px;font-size:28.5px;line-height:37px;color:#f4f4f4;letter-spacing:-0.52px;-webkit-text-stroke:0.25px #f4f4f4;">Another pre-read quiz (Online Child Sexual</div>
<div class="t " style="left:64.5px;top:1234.1px;font-size:28.5px;line-height:37px;color:#f4f4f4;letter-spacing:-0.53px;-webkit-text-stroke:0.25px #f4f4f4;">Exploitation)</div>
<div class="a" style="left:38.7px;top:1208.3px;width:9.4px;height:9.4px;border-radius:50%;background:#f4f4f4"></div>
<div class="t " style="left:64.5px;top:1290.1px;font-size:28.5px;line-height:37px;color:#f4f4f4;letter-spacing:-0.29px;-webkit-text-stroke:0.25px #f4f4f4;">Promo video creation</div>
<div class="a" style="left:38.7px;top:1304.3px;width:9.4px;height:9.4px;border-radius:50%;background:#f4f4f4"></div>
<div class="t " style="left:64.5px;top:1346.1px;font-size:28.5px;line-height:37px;color:#f4f4f4;letter-spacing:-0.23px;-webkit-text-stroke:0.25px #f4f4f4;">Vet appointment at 3:30pm for Cytopoint and suture</div>
<div class="t " style="left:64.5px;top:1386.1px;font-size:28.5px;line-height:37px;color:#f4f4f4;letter-spacing:-0.40px;-webkit-text-stroke:0.25px #f4f4f4;">removal</div>
<div class="a" style="left:38.7px;top:1360.3px;width:9.4px;height:9.4px;border-radius:50%;background:#f4f4f4"></div>
<div class="t " style="left:32.0px;top:1450.1px;font-size:28.5px;line-height:37px;color:#f4f4f4;font-weight:700;letter-spacing:-1.68px;">Saturday</div>
<div class="t " style="left:64.5px;top:1514.1px;font-size:28.5px;line-height:37px;color:#f4f4f4;letter-spacing:0.04px;-webkit-text-stroke:0.25px #f4f4f4;">More project proposal work</div>
<div class="a" style="left:38.7px;top:1528.3px;width:9.4px;height:9.4px;border-radius:50%;background:#f4f4f4"></div>
<div class="t " style="left:64.5px;top:1570.1px;font-size:28.5px;line-height:37px;color:#f4f4f4;letter-spacing:-0.36px;-webkit-text-stroke:0.25px #f4f4f4;">Working with Law Enforcement quiz</div>
<div class="a" style="left:38.7px;top:1584.3px;width:9.4px;height:9.4px;border-radius:50%;background:#f4f4f4"></div>
<div class="t " style="left:64.5px;top:1626.1px;font-size:28.5px;line-height:37px;color:#f4f4f4;letter-spacing:-0.27px;-webkit-text-stroke:0.25px #f4f4f4;">Launch Week product work</div>
<div class="a" style="left:38.7px;top:1640.3px;width:9.4px;height:9.4px;border-radius:50%;background:#f4f4f4"></div>
<div class="t " style="left:64.5px;top:1682.1px;font-size:28.5px;line-height:37px;color:#f4f4f4;letter-spacing:-0.74px;-webkit-text-stroke:0.25px #f4f4f4;">Party at Will&#x27;s house at 7pm</div>
<div class="a" style="left:38.7px;top:1696.3px;width:9.4px;height:9.4px;border-radius:50%;background:#f4f4f4"></div>
<div class="t " style="left:32.0px;top:1746.1px;font-size:28.5px;line-height:37px;color:#f4f4f4;letter-spacing:-0.67px;-webkit-text-stroke:0.25px #f4f4f4;">That&#x27;s... a lot of quizzes and assignments. You doing</div>
<div class="t " style="left:32.0px;top:1786.1px;font-size:28.5px;line-height:37px;color:#f4f4f4;letter-spacing:-0.21px;-webkit-text-stroke:0.25px #f4f4f4;">okay? Anything you want me to help reschedule or find</div>
<div class="t " style="left:32.0px;top:1826.1px;font-size:28.5px;line-height:37px;color:#f4f4f4;letter-spacing:-0.39px;-webkit-text-stroke:0.25px #f4f4f4;">time for?</div>
</div>
<div class="a" style="left:2412px;top:2000px;width:718px;height:168px;border-radius:20px;background:linear-gradient(90deg,#ff7a3c 0%,#e8e03c 22%,#6fdc4a 40%,#3fa9f5 62%,#4a7dff 82%,#8a5cf5 100%);filter:blur(26px);opacity:.33"></div>
<div class="a" style="left:2412px;top:2000px;width:718px;height:168px;border-radius:20px;background:linear-gradient(167deg,#f08a3c 0%,#e8c840 9%,#c4e048 17%,#8fe060 25%,#5cc4d8 36%,#4a9ef5 48%,#4a90f8 100%)"></div>
<div class="a" style="left:2414.500px;top:2002.500px;width:713px;height:163px;border-radius:17.500px;background:#121212"></div>
<div class="t " style="left:2436.0px;top:2026.8px;font-size:28px;line-height:36px;color:#8c8c8c;letter-spacing:-0.38px;">Ask anything</div>
<div class="a" style="left:2436.0px;top:2087.6px;width:56.0px;height:56.0px;background:#2a2a2a;border:2px solid #3c3c3c;border-radius:50%;box-sizing:border-box;"></div>
<svg class="a" style="left:2448.5px;top:2099.6px;" width="31" height="31" viewBox="0 0 24 24" fill="none" stroke="#f4f4f4" stroke-width="2" stroke-linecap="round" stroke-linejoin="round"><path d="M16 5h6"/><path d="M19 2v6"/><path d="M21 11.5V19a2 2 0 0 1-2 2H5a2 2 0 0 1-2-2V5a2 2 0 0 1 2-2h7.5"/><path d="m21 15-3.086-3.086a2 2 0 0 0-2.828 0L6 21"/><circle cx="9" cy="9" r="2"/></svg>
<div class="a" style="left:3050.0px;top:2088.0px;width:56.0px;height:56.0px;background:#3c3987;border-radius:50%;"></div>
<svg class="a" style="left:3063.5px;top:2101.5px;" width="29" height="29" viewBox="0 0 24 24" fill="none" stroke="#8b8aa0" stroke-width="2.2" stroke-linecap="round" stroke-linejoin="round"><path d="m5 12 7-7 7 7"/><path d="M12 19V5"/></svg>
</div>
</body></html>
